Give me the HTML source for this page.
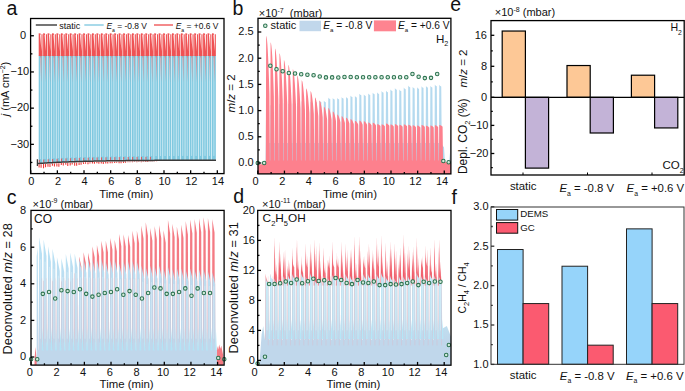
<!DOCTYPE html>
<html><head><meta charset="utf-8"><style>
html,body{margin:0;padding:0;background:#fff;}
svg{display:block;font-family:"Liberation Sans", sans-serif;}
text{fill:#111;}
</style></head><body>
<svg width="685" height="391" viewBox="0 0 685 391">
<defs>
<linearGradient id="gc" gradientUnits="userSpaceOnUse" x1="0" y1="247.2" x2="0" y2="338.7"><stop offset="0" stop-color="#b9e1f4"/><stop offset="1" stop-color="#c0d7eb"/></linearGradient>
<linearGradient id="gd" gradientUnits="userSpaceOnUse" x1="0" y1="277.9" x2="0" y2="341.6"><stop offset="0" stop-color="#c3e9f7"/><stop offset="0.6" stop-color="#bfe3f3"/><stop offset="1" stop-color="#c0d7eb"/></linearGradient>
<clipPath id="ca"><rect x="30.6" y="18.5" width="193.4" height="155.1"/></clipPath>
<clipPath id="cb"><rect x="258.0" y="18.3" width="192.89999999999998" height="155.6"/></clipPath>
<clipPath id="cc"><rect x="31.0" y="210.4" width="193.1" height="154.70000000000002"/></clipPath>
<clipPath id="cd"><rect x="257.7" y="210.4" width="193.3" height="154.79999999999998"/></clipPath>
</defs>
<g clip-path="url(#ca)">
<path d="M38.70,163.15V55.48H42.55V162.85Z M43.14,162.85V55.48H46.99V162.57Z M47.58,162.57V55.48H51.43V162.32Z M52.03,162.32V55.48H55.88V162.09Z M56.47,162.09V55.48H60.32V161.88Z M60.91,161.88V55.48H64.76V161.69Z M65.36,161.69V55.48H69.21V161.52Z M69.80,161.52V55.48H73.65V161.36Z M74.24,161.36V55.48H78.09V161.22Z M78.69,161.22V55.48H82.54V161.09Z M83.13,161.09V55.48H86.98V160.97Z M87.57,160.97V55.48H91.42V160.87Z M92.02,160.87V55.48H95.87V160.77Z M96.46,160.77V55.48H100.31V160.68Z M100.90,160.68V55.48H104.75V160.60Z M105.35,160.60V55.48H109.20V160.53Z M109.79,160.53V55.48H113.64V160.46Z M114.23,160.46V55.48H118.08V160.40Z M118.68,160.40V55.48H122.53V160.35Z M123.12,160.35V55.48H126.97V160.30Z M127.56,160.30V55.48H131.41V160.25Z M132.01,160.25V55.48H135.86V160.21Z M136.45,160.21V55.48H140.30V160.17Z M140.89,160.17V55.48H144.74V160.14Z M145.34,160.14V55.48H149.19V160.11Z M149.78,160.11V55.48H153.63V160.08Z M154.22,160.08V55.48H158.07V160.05Z M158.67,160.05V55.48H162.52V160.03Z M163.11,160.03V55.48H166.96V160.01Z M167.55,160.01V55.48H171.40V159.99Z M172.00,159.99V55.48H175.85V159.97Z M176.44,159.97V55.48H180.29V159.96Z M180.88,159.96V55.48H184.73V159.94Z M185.33,159.94V55.48H189.18V159.93Z M189.77,159.93V55.48H193.62V159.92Z M194.21,159.92V55.48H198.06V159.91Z M198.66,159.91V55.48H202.51V159.90Z M203.10,159.90V55.48H206.95V159.89Z M207.54,159.89V55.48H211.39V159.88Z M211.99,159.88V55.48H215.84V159.87Z" fill="#80c9e0"/>
<path d="M40.60,57.48V159.15 M45.04,57.48V158.85 M49.48,57.48V158.57 M53.93,57.48V158.32 M58.37,57.48V158.09 M62.81,57.48V157.88 M67.26,57.48V157.69 M71.70,57.48V157.52 M76.14,57.48V157.36 M80.59,57.48V157.22 M85.03,57.48V157.09 M89.47,57.48V156.97 M93.92,57.48V156.87 M98.36,57.48V156.77 M102.80,57.48V156.68 M107.25,57.48V156.60 M111.69,57.48V156.53 M116.13,57.48V156.46 M120.58,57.48V156.40 M125.02,57.48V156.35 M129.46,57.48V156.30 M133.91,57.48V156.25 M138.35,57.48V156.21 M142.79,57.48V156.17 M147.24,57.48V156.14 M151.68,57.48V156.11 M156.12,57.48V156.08 M160.57,57.48V156.05 M165.01,57.48V156.03 M169.45,57.48V156.01 M173.90,57.48V155.99 M178.34,57.48V155.97 M182.78,57.48V155.96 M187.23,57.48V155.94 M191.67,57.48V155.93 M196.11,57.48V155.92 M200.56,57.48V155.91 M205.00,57.48V155.90 M209.44,57.48V155.89 M213.89,57.48V155.88" stroke="#d2edf6" stroke-width="0.7" fill="none"/>
<path d="M38.70,56.02V33.26L40.60,33.46L40.60,34.76L40.15,34.96L41.45,51.32V34.16L42.55,34.36V56.02Z M43.14,56.02V33.26L45.04,33.46L45.04,34.76L44.59,34.96L45.89,51.32V34.16L46.99,34.36V56.02Z M47.58,56.02V33.26L49.48,33.46L49.48,34.76L49.03,34.96L50.33,51.32V34.16L51.43,34.36V56.02Z M52.03,56.02V33.26L53.93,33.46L53.93,34.76L53.48,34.96L54.78,51.32V34.16L55.88,34.36V56.02Z M56.47,56.02V33.26L58.37,33.46L58.37,34.76L57.92,34.96L59.22,51.32V34.16L60.32,34.36V56.02Z M60.91,56.02V33.26L62.81,33.46L62.81,34.76L62.36,34.96L63.66,51.32V34.16L64.76,34.36V56.02Z M65.36,56.02V33.26L67.26,33.46L67.26,34.76L66.81,34.96L68.11,51.32V34.16L69.21,34.36V56.02Z M69.80,56.02V33.26L71.70,33.46L71.70,34.76L71.25,34.96L72.55,51.32V34.16L73.65,34.36V56.02Z M74.24,56.02V33.26L76.14,33.46L76.14,34.76L75.69,34.96L76.99,51.32V34.16L78.09,34.36V56.02Z M78.69,56.02V33.26L80.59,33.46L80.59,34.76L80.14,34.96L81.44,51.32V34.16L82.54,34.36V56.02Z M83.13,56.02V33.26L85.03,33.46L85.03,34.76L84.58,34.96L85.88,51.32V34.16L86.98,34.36V56.02Z M87.57,56.02V33.26L89.47,33.46L89.47,34.76L89.02,34.96L90.32,51.32V34.16L91.42,34.36V56.02Z M92.02,56.02V33.26L93.92,33.46L93.92,34.76L93.47,34.96L94.77,51.32V34.16L95.87,34.36V56.02Z M96.46,56.02V33.26L98.36,33.46L98.36,34.76L97.91,34.96L99.21,51.32V34.16L100.31,34.36V56.02Z M100.90,56.02V33.26L102.80,33.46L102.80,34.76L102.35,34.96L103.65,51.32V34.16L104.75,34.36V56.02Z M105.35,56.02V33.26L107.25,33.46L107.25,34.76L106.80,34.96L108.10,51.32V34.16L109.20,34.36V56.02Z M109.79,56.02V33.26L111.69,33.46L111.69,34.76L111.24,34.96L112.54,51.32V34.16L113.64,34.36V56.02Z M114.23,56.02V33.26L116.13,33.46L116.13,34.76L115.68,34.96L116.98,51.32V34.16L118.08,34.36V56.02Z M118.68,56.02V33.26L120.58,33.46L120.58,34.76L120.13,34.96L121.43,51.32V34.16L122.53,34.36V56.02Z M123.12,56.02V33.26L125.02,33.46L125.02,34.76L124.57,34.96L125.87,51.32V34.16L126.97,34.36V56.02Z M127.56,56.02V33.26L129.46,33.46L129.46,34.76L129.01,34.96L130.31,51.32V34.16L131.41,34.36V56.02Z M132.01,56.02V33.26L133.91,33.46L133.91,34.76L133.46,34.96L134.76,51.32V34.16L135.86,34.36V56.02Z M136.45,56.02V33.26L138.35,33.46L138.35,34.76L137.90,34.96L139.20,51.32V34.16L140.30,34.36V56.02Z M140.89,56.02V33.26L142.79,33.46L142.79,34.76L142.34,34.96L143.64,51.32V34.16L144.74,34.36V56.02Z M145.34,56.02V33.26L147.24,33.46L147.24,34.76L146.79,34.96L148.09,51.32V34.16L149.19,34.36V56.02Z M149.78,56.02V33.26L151.68,33.46L151.68,34.76L151.23,34.96L152.53,51.32V34.16L153.63,34.36V56.02Z M154.22,56.02V33.26L156.12,33.46L156.12,34.76L155.67,34.96L156.97,51.32V34.16L158.07,34.36V56.02Z M158.67,56.02V33.26L160.57,33.46L160.57,34.76L160.12,34.96L161.42,51.32V34.16L162.52,34.36V56.02Z M163.11,56.02V33.26L165.01,33.46L165.01,34.76L164.56,34.96L165.86,51.32V34.16L166.96,34.36V56.02Z M167.55,56.02V33.26L169.45,33.46L169.45,34.76L169.00,34.96L170.30,51.32V34.16L171.40,34.36V56.02Z M172.00,56.02V33.26L173.90,33.46L173.90,34.76L173.45,34.96L174.75,51.32V34.16L175.85,34.36V56.02Z M176.44,56.02V33.26L178.34,33.46L178.34,34.76L177.89,34.96L179.19,51.32V34.16L180.29,34.36V56.02Z M180.88,56.02V33.26L182.78,33.46L182.78,34.76L182.33,34.96L183.63,51.32V34.16L184.73,34.36V56.02Z M185.33,56.02V33.26L187.23,33.46L187.23,34.76L186.78,34.96L188.08,51.32V34.16L189.18,34.36V56.02Z M189.77,56.02V33.26L191.67,33.46L191.67,34.76L191.22,34.96L192.52,51.32V34.16L193.62,34.36V56.02Z M194.21,56.02V33.26L196.11,33.46L196.11,34.76L195.66,34.96L196.96,51.32V34.16L198.06,34.36V56.02Z M198.66,56.02V33.26L200.56,33.46L200.56,34.76L200.11,34.96L201.41,51.32V34.16L202.51,34.36V56.02Z M203.10,56.02V33.26L205.00,33.46L205.00,34.76L204.55,34.96L205.85,51.32V34.16L206.95,34.36V56.02Z M207.54,56.02V33.26L209.44,33.46L209.44,34.76L208.99,34.96L210.29,51.32V34.16L211.39,34.36V56.02Z M211.99,56.02V33.26L213.89,33.46L213.89,34.76L213.44,34.96L214.74,51.32V34.16L215.84,34.36V56.02Z" fill="#ef5254"/>
<path d="M40.20,55.66L41.60,55.66L41.20,82.81Z M44.64,55.66L46.04,55.66L45.64,82.81Z M49.08,55.66L50.48,55.66L50.08,82.81Z M53.53,55.66L54.93,55.66L54.53,82.81Z M57.97,55.66L59.37,55.66L58.97,82.81Z M62.41,55.66L63.81,55.66L63.41,82.81Z M66.86,55.66L68.26,55.66L67.86,82.81Z M71.30,55.66L72.70,55.66L72.30,82.81Z M75.74,55.66L77.14,55.66L76.74,82.81Z M80.19,55.66L81.59,55.66L81.19,82.81Z M84.63,55.66L86.03,55.66L85.63,82.81Z M89.07,55.66L90.47,55.66L90.07,82.81Z M93.52,55.66L94.92,55.66L94.52,82.81Z M97.96,55.66L99.36,55.66L98.96,82.81Z M102.40,55.66L103.80,55.66L103.40,82.81Z M106.85,55.66L108.25,55.66L107.85,82.81Z M111.29,55.66L112.69,55.66L112.29,82.81Z M115.73,55.66L117.13,55.66L116.73,82.81Z M120.18,55.66L121.58,55.66L121.18,82.81Z M124.62,55.66L126.02,55.66L125.62,82.81Z M129.06,55.66L130.46,55.66L130.06,82.81Z M133.51,55.66L134.91,55.66L134.51,82.81Z M137.95,55.66L139.35,55.66L138.95,82.81Z M142.39,55.66L143.79,55.66L143.39,82.81Z M146.84,55.66L148.24,55.66L147.84,82.81Z M151.28,55.66L152.68,55.66L152.28,82.81Z M155.72,55.66L157.12,55.66L156.72,82.81Z M160.17,55.66L161.57,55.66L161.17,82.81Z M164.61,55.66L166.01,55.66L165.61,82.81Z M169.05,55.66L170.45,55.66L170.05,82.81Z M173.50,55.66L174.90,55.66L174.50,82.81Z M177.94,55.66L179.34,55.66L178.94,82.81Z M182.38,55.66L183.78,55.66L183.38,82.81Z M186.83,55.66L188.23,55.66L187.83,82.81Z M191.27,55.66L192.67,55.66L192.27,82.81Z M195.71,55.66L197.11,55.66L196.71,82.81Z M200.16,55.66L201.56,55.66L201.16,82.81Z M204.60,55.66L206.00,55.66L205.60,82.81Z M209.04,55.66L210.44,55.66L210.04,82.81Z M213.49,55.66L214.89,55.66L214.49,82.81Z" fill="#f06a6a" fill-opacity="0.55"/>
<path d="M39.30,162.73V159.83 M43.74,162.42V159.53 M48.18,162.15V159.25 M52.63,161.89V159.00 M57.07,161.66V158.77 M61.51,161.46V158.56 M65.96,161.27V158.37 M70.40,161.10V158.20 M74.84,160.94V158.04 M79.29,160.80V157.90 M83.73,160.67V157.77 M88.17,160.55V157.65 M92.62,160.44V157.55 M97.06,160.35V157.45 M101.50,160.26V157.36 M105.95,160.18V157.28 M110.39,160.10V157.21 M114.83,160.04V157.14 M119.28,159.98V157.08 M123.72,159.92V157.03 M128.16,159.87V156.98 M132.61,159.83V156.93 M137.05,159.79V156.89 M141.49,159.75V156.85 M145.94,159.71V156.82 M150.38,159.68V156.79" stroke="#f04040" stroke-width="1.0" stroke-opacity="0.8" fill="none"/>
<path d="M39.10,164.36V167.57 M41.10,164.36V167.81 M43.54,164.05V168.16 M45.54,164.05V167.18 M47.98,163.77V166.87 M49.98,163.77V167.04 M52.43,163.52V165.86 M54.43,163.52V166.51 M56.87,163.29V166.39 M58.87,163.29V166.70 M61.31,163.09V165.08 M63.31,163.09V165.46 M65.76,162.90V164.80 M67.76,162.90V166.05 M70.20,162.72V165.54 M72.20,162.72V164.46 M74.64,162.57V165.71 M76.64,162.57V165.68 M79.09,162.43V164.92 M81.09,162.43V164.86 M83.53,162.30V163.95 M85.53,162.30V163.75 M87.97,162.18V164.24 M89.97,162.18V163.61 M92.42,162.07V163.58 M94.42,162.07V163.65 M96.86,161.97V163.20 M98.86,161.97V163.72 M101.30,161.89V163.49 M103.30,161.89V163.94 M105.75,161.81V163.38 M107.75,161.81V163.50 M110.19,161.73V163.17 M112.19,161.73V163.32 M114.63,161.67V162.95 M116.63,161.67V162.79 M119.08,161.61V163.20 M121.08,161.61V163.20 M123.52,161.55V162.88 M125.52,161.55V162.78 M127.96,161.50V162.35 M129.96,161.50V162.29 M132.41,161.46V162.18 M134.41,161.46V162.06 M136.85,161.41V162.27 M138.85,161.41V162.10 M141.29,161.38V162.13 M143.29,161.38V161.94 M145.74,161.34V161.99 M147.74,161.34V161.95 M150.18,161.31V161.56 M152.18,161.31V161.62 M154.62,161.28V161.61 M156.62,161.28V161.54" stroke="#f03a3a" stroke-width="1.1" fill="none"/>
<polyline points="37.37,159.19 37.37,166.07" fill="none" stroke="#333" stroke-width="1.2" />
<polyline points="37.37,163.55 39.15,163.42 40.94,163.29 42.72,163.17 44.51,163.06 46.30,162.95 48.08,162.84 49.87,162.74 51.65,162.64 53.44,162.54 55.23,162.45 57.01,162.36 58.80,162.28 60.59,162.20 62.37,162.12 64.16,162.04 65.94,161.97 67.73,161.90 69.52,161.83 71.30,161.76 73.09,161.70 74.88,161.64 76.66,161.58 78.45,161.53 80.23,161.47 82.02,161.42 83.81,161.37 85.59,161.32 87.38,161.28 89.17,161.23 90.95,161.19 92.74,161.15 94.52,161.11 96.31,161.07 98.10,161.04 99.88,161.00 101.67,160.97 103.46,160.93 105.24,160.90 107.03,160.87 108.81,160.84 110.60,160.82 112.39,160.79 114.17,160.76 115.96,160.74 117.74,160.71 119.53,160.69 121.32,160.67 123.10,160.65 124.89,160.63 126.68,160.61 128.46,160.59 130.25,160.57 132.03,160.55 133.82,160.53 135.61,160.52 137.39,160.50 139.18,160.49 140.97,160.47 142.75,160.46 144.54,160.44 146.32,160.43 148.11,160.42 149.90,160.41 151.68,160.39 153.47,160.38 155.26,160.37 157.04,160.36 158.83,160.35 160.61,160.34 162.40,160.33 164.19,160.32 165.97,160.32 167.76,160.31 169.55,160.30 171.33,160.29 173.12,160.29 174.90,160.28 176.69,160.27 178.48,160.26 180.26,160.26 182.05,160.25 183.84,160.25 185.62,160.24 187.41,160.24 189.19,160.23 190.98,160.23 192.77,160.22 194.55,160.22 196.34,160.21 198.12,160.21 199.91,160.20 201.70,160.20 203.48,160.20 205.27,160.19 207.06,160.19 208.84,160.18 210.63,160.18 212.41,160.18 214.20,160.17 215.99,160.17" fill="none" stroke="#3a3a3a" stroke-width="1.5" />
</g>
<rect x="30.60" y="18.50" width="193.40" height="155.10" fill="none" stroke="#000" stroke-width="1.3"/>
<line x1="30.60" y1="35.75" x2="33.90" y2="35.75" stroke="#000" stroke-width="1.3" />
<line x1="30.60" y1="71.95" x2="33.90" y2="71.95" stroke="#000" stroke-width="1.3" />
<line x1="30.60" y1="108.15" x2="33.90" y2="108.15" stroke="#000" stroke-width="1.3" />
<line x1="30.60" y1="144.35" x2="33.90" y2="144.35" stroke="#000" stroke-width="1.3" />
<line x1="30.60" y1="53.85" x2="32.40" y2="53.85" stroke="#000" stroke-width="1.3" />
<line x1="30.60" y1="90.05" x2="32.40" y2="90.05" stroke="#000" stroke-width="1.3" />
<line x1="30.60" y1="126.25" x2="32.40" y2="126.25" stroke="#000" stroke-width="1.3" />
<line x1="30.60" y1="162.45" x2="32.40" y2="162.45" stroke="#000" stroke-width="1.3" />
<text x="26.20" y="39.05" font-size="11" text-anchor="end" >0</text>
<text x="29.20" y="75.25" font-size="11" text-anchor="end" >−10</text>
<text x="29.20" y="111.45" font-size="11" text-anchor="end" >−20</text>
<text x="29.20" y="147.65" font-size="11" text-anchor="end" >−30</text>
<line x1="30.70" y1="173.60" x2="30.70" y2="170.30" stroke="#000" stroke-width="1.3" />
<text x="31.30" y="185.20" font-size="11" text-anchor="middle" >0</text>
<line x1="44.03" y1="173.60" x2="44.03" y2="171.80" stroke="#000" stroke-width="1.3" />
<line x1="57.36" y1="173.60" x2="57.36" y2="170.30" stroke="#000" stroke-width="1.3" />
<text x="57.96" y="185.20" font-size="11" text-anchor="middle" >2</text>
<line x1="70.69" y1="173.60" x2="70.69" y2="171.80" stroke="#000" stroke-width="1.3" />
<line x1="84.02" y1="173.60" x2="84.02" y2="170.30" stroke="#000" stroke-width="1.3" />
<text x="84.62" y="185.20" font-size="11" text-anchor="middle" >4</text>
<line x1="97.35" y1="173.60" x2="97.35" y2="171.80" stroke="#000" stroke-width="1.3" />
<line x1="110.68" y1="173.60" x2="110.68" y2="170.30" stroke="#000" stroke-width="1.3" />
<text x="111.28" y="185.20" font-size="11" text-anchor="middle" >6</text>
<line x1="124.01" y1="173.60" x2="124.01" y2="171.80" stroke="#000" stroke-width="1.3" />
<line x1="137.34" y1="173.60" x2="137.34" y2="170.30" stroke="#000" stroke-width="1.3" />
<text x="137.94" y="185.20" font-size="11" text-anchor="middle" >8</text>
<line x1="150.67" y1="173.60" x2="150.67" y2="171.80" stroke="#000" stroke-width="1.3" />
<line x1="164.00" y1="173.60" x2="164.00" y2="170.30" stroke="#000" stroke-width="1.3" />
<text x="164.60" y="185.20" font-size="11" text-anchor="middle" >10</text>
<line x1="177.33" y1="173.60" x2="177.33" y2="171.80" stroke="#000" stroke-width="1.3" />
<line x1="190.66" y1="173.60" x2="190.66" y2="170.30" stroke="#000" stroke-width="1.3" />
<text x="191.26" y="185.20" font-size="11" text-anchor="middle" >12</text>
<line x1="203.99" y1="173.60" x2="203.99" y2="171.80" stroke="#000" stroke-width="1.3" />
<line x1="217.32" y1="173.60" x2="217.32" y2="170.30" stroke="#000" stroke-width="1.3" />
<text x="217.92" y="185.20" font-size="11" text-anchor="middle" >14</text>
<text x="126.20" y="197.70" font-size="11.4" text-anchor="middle" >Time (min)</text>
<text transform="translate(8.9,89) rotate(-90)" font-size="11" text-anchor="middle"><tspan font-style="italic">j</tspan> (mA cm<tspan dy="-4" font-size="7">−2</tspan><tspan dy="4">)</tspan></text>
<line x1="35.80" y1="25.00" x2="57.00" y2="25.00" stroke="#3a3a3a" stroke-width="1.4" />
<text x="59.20" y="28.70" font-size="9" text-anchor="start" >static</text>
<line x1="84.30" y1="25.00" x2="103.70" y2="25.00" stroke="#84cbe1" stroke-width="1.4" />
<text x="106.40" y="28.70" font-size="8.45" text-anchor="start" ><tspan font-style="italic">E</tspan><tspan dy="2.89" font-size="5.07">a</tspan><tspan dy="-2.89"> = -0.8 V</tspan></text>
<line x1="154.00" y1="25.00" x2="173.00" y2="25.00" stroke="#f0585a" stroke-width="1.4" />
<text x="175.70" y="28.70" font-size="8.45" text-anchor="start" ><tspan font-style="italic">E</tspan><tspan dy="2.89" font-size="5.07">a</tspan><tspan dy="-2.89"> = +0.6 V</tspan></text>
<text x="6.50" y="14.80" font-size="19.5" text-anchor="start" >a</text>
<g clip-path="url(#cb)">
<polygon points="265.53,183.96 265.53,163.00 265.79,143.09 266.10,104.45 266.35,104.75 266.60,105.00 266.85,105.21 267.10,105.38 267.35,105.52 267.60,105.64 267.85,105.74 268.10,105.82 268.54,143.09 270.23,143.09 270.54,104.95 270.79,105.24 271.04,105.49 271.29,105.70 271.54,105.87 271.79,106.01 272.04,106.12 272.29,106.22 272.54,106.30 272.98,143.09 274.67,143.09 274.98,105.03 275.23,105.33 275.48,105.58 275.73,105.78 275.98,105.95 276.23,106.09 276.48,106.21 276.73,106.30 276.98,106.38 277.42,143.09 279.11,143.09 279.42,103.74 279.67,104.04 279.92,104.29 280.17,104.50 280.42,104.67 280.67,104.82 280.92,104.94 281.17,105.03 281.42,105.12 281.86,143.09 283.55,143.09 283.86,103.08 284.11,103.39 284.36,103.64 284.61,103.85 284.86,104.03 285.11,104.17 285.36,104.29 285.61,104.39 285.86,104.47 286.30,143.09 287.99,143.09 288.30,103.46 288.55,103.76 288.80,104.01 289.05,104.22 289.30,104.40 289.55,104.54 289.80,104.66 290.05,104.76 290.30,104.84 290.74,143.09 292.43,143.09 292.74,103.32 292.99,103.63 293.24,103.88 293.49,104.09 293.74,104.26 293.99,104.41 294.24,104.53 294.49,104.63 294.74,104.71 295.18,143.09 296.87,143.09 297.18,102.51 297.43,102.82 297.68,103.08 297.93,103.29 298.18,103.47 298.43,103.61 298.68,103.74 298.93,103.84 299.18,103.92 299.62,143.09 301.31,143.09 301.62,101.09 301.87,101.41 302.12,101.68 302.37,101.89 302.62,102.07 302.87,102.22 303.12,102.35 303.37,102.45 303.62,102.54 304.06,143.09 305.75,143.09 306.06,101.00 306.31,101.31 306.56,101.58 306.81,101.80 307.06,101.98 307.31,102.13 307.56,102.25 307.81,102.36 308.06,102.44 308.50,143.09 310.19,143.09 310.50,101.58 310.75,101.89 311.00,102.16 311.25,102.37 311.50,102.55 311.75,102.70 312.00,102.82 312.25,102.93 312.50,103.01 312.94,143.09 314.63,143.09 314.94,100.95 315.19,101.27 315.44,101.54 315.69,101.76 315.94,101.94 316.19,102.09 316.44,102.21 316.69,102.31 316.94,102.40 317.38,143.09 319.07,143.09 319.38,100.76 319.63,101.08 319.88,101.34 320.13,101.56 320.38,101.75 320.63,101.90 320.88,102.02 321.13,102.12 321.38,102.21 321.82,143.09 323.51,143.09 323.82,100.79 324.07,101.11 324.32,101.37 324.57,101.59 324.82,101.78 325.07,101.93 325.32,102.05 325.57,102.16 325.82,102.24 326.26,143.09 327.95,143.09 328.26,97.58 328.51,97.91 328.76,98.19 329.01,98.42 329.26,98.61 329.51,98.77 329.76,98.90 330.01,99.01 330.26,99.10 330.70,143.09 332.39,143.09 332.70,98.02 332.95,98.36 333.20,98.63 333.45,98.86 333.70,99.05 333.95,99.21 334.20,99.34 334.45,99.45 334.70,99.54 335.14,143.09 336.83,143.09 337.14,97.92 337.39,98.25 337.64,98.53 337.89,98.76 338.14,98.95 338.39,99.11 338.64,99.24 338.89,99.35 339.14,99.44 339.58,143.09 341.27,143.09 341.58,97.05 341.83,97.39 342.08,97.67 342.33,97.90 342.58,98.09 342.83,98.25 343.08,98.38 343.33,98.49 343.58,98.59 344.02,143.09 345.71,143.09 346.02,96.94 346.27,97.28 346.52,97.56 346.77,97.79 347.02,97.98 347.27,98.14 347.52,98.28 347.77,98.39 348.02,98.48 348.46,143.09 350.15,143.09 350.46,95.54 350.71,95.89 350.96,96.18 351.21,96.41 351.46,96.61 351.71,96.77 351.96,96.91 352.21,97.02 352.46,97.12 352.90,143.09 354.59,143.09 354.90,95.95 355.15,96.30 355.40,96.58 355.65,96.82 355.90,97.02 356.15,97.18 356.40,97.31 356.65,97.42 356.90,97.52 357.34,143.09 359.03,143.09 359.34,93.65 359.59,94.01 359.84,94.30 360.09,94.55 360.34,94.75 360.59,94.92 360.84,95.06 361.09,95.17 361.34,95.27 361.78,143.09 363.47,143.09 363.78,94.41 364.03,94.77 364.28,95.06 364.53,95.30 364.78,95.50 365.03,95.67 365.28,95.80 365.53,95.92 365.78,96.01 366.22,143.09 367.91,143.09 368.22,93.41 368.47,93.77 368.72,94.06 368.97,94.31 369.22,94.51 369.47,94.68 369.72,94.82 369.97,94.94 370.22,95.03 370.66,143.09 372.35,143.09 372.66,92.70 372.91,93.06 373.16,93.36 373.41,93.60 373.66,93.81 373.91,93.98 374.16,94.12 374.41,94.24 374.66,94.33 375.10,143.09 376.79,143.09 377.10,92.36 377.35,92.72 377.60,93.02 377.85,93.27 378.10,93.48 378.35,93.65 378.60,93.79 378.85,93.91 379.10,94.00 379.54,143.09 381.23,143.09 381.54,91.01 381.79,91.37 382.04,91.68 382.29,91.93 382.54,92.15 382.79,92.32 383.04,92.46 383.29,92.58 383.54,92.68 383.98,143.09 385.67,143.09 385.98,90.61 386.23,90.98 386.48,91.29 386.73,91.54 386.98,91.75 387.23,91.93 387.48,92.07 387.73,92.20 387.98,92.30 388.42,143.09 390.11,143.09 390.42,89.39 390.67,89.76 390.92,90.08 391.17,90.34 391.42,90.55 391.67,90.73 391.92,90.88 392.17,91.00 392.42,91.10 392.86,143.09 394.55,143.09 394.86,88.04 395.11,88.43 395.36,88.75 395.61,89.01 395.86,89.23 396.11,89.41 396.36,89.56 396.61,89.69 396.86,89.79 397.30,143.09 398.99,143.09 399.30,89.47 399.55,89.84 399.80,90.16 400.05,90.42 400.30,90.63 400.55,90.81 400.80,90.96 401.05,91.08 401.30,91.18 401.74,143.09 403.43,143.09 403.74,87.47 403.99,87.86 404.24,88.18 404.49,88.45 404.74,88.67 404.99,88.85 405.24,89.00 405.49,89.13 405.74,89.23 406.18,143.09 407.87,143.09 408.18,85.52 408.43,85.92 408.68,86.25 408.93,86.52 409.18,86.75 409.43,86.94 409.68,87.09 409.93,87.22 410.18,87.33 410.62,143.09 412.31,143.09 412.62,86.76 412.87,87.15 413.12,87.48 413.37,87.75 413.62,87.97 413.87,88.15 414.12,88.31 414.37,88.43 414.62,88.54 415.06,143.09 416.75,143.09 417.06,87.20 417.31,87.59 417.56,87.91 417.81,88.18 418.06,88.40 418.31,88.58 418.56,88.74 418.81,88.86 419.06,88.97 419.50,143.09 421.19,143.09 421.50,86.17 421.75,86.57 422.00,86.89 422.25,87.16 422.50,87.39 422.75,87.57 423.00,87.73 423.25,87.86 423.50,87.96 423.94,143.09 425.63,143.09 425.94,85.90 426.19,86.29 426.44,86.62 426.69,86.89 426.94,87.12 427.19,87.31 427.44,87.46 427.69,87.59 427.94,87.70 428.38,143.09 430.07,143.09 430.38,85.79 430.63,86.19 430.88,86.52 431.13,86.79 431.38,87.02 431.63,87.20 431.88,87.36 432.13,87.49 432.38,87.59 432.82,143.09 434.51,143.09 434.82,84.49 435.07,84.89 435.32,85.22 435.57,85.50 435.82,85.73 436.07,85.92 436.32,86.08 436.57,86.21 436.82,86.32 437.26,143.09 438.95,143.09 439.26,84.68 439.51,85.09 439.76,85.42 440.01,85.69 440.26,85.92 440.51,86.11 440.76,86.27 441.01,86.40 441.26,86.51 441.70,143.09 440.95,143.09 442.28,145.18 444.01,147.28 444.95,161.95 448.94,161.95 449.34,152.52 449.87,161.95 452.27,163.00 452.27,183.96" fill="#b5daef" stroke="none" stroke-width="1.0" />
<polygon points="256.47,183.96 256.47,164.31 263.39,164.31 263.79,161.95 265.53,161.43 265.79,160.38 266.15,35.88 266.56,36.79 266.97,39.52 267.38,44.07 267.79,50.45 268.20,58.64 268.61,68.65 269.02,80.49 269.43,94.14 269.88,160.38 270.23,160.38 270.59,42.28 271.00,43.13 271.41,45.66 271.82,49.90 272.23,55.82 272.64,63.44 273.05,72.75 273.46,83.75 273.87,96.44 274.32,160.38 274.67,160.38 275.03,48.43 275.44,49.21 275.85,51.57 276.26,55.49 276.67,60.98 277.08,68.05 277.49,76.68 277.90,86.88 278.31,98.66 278.76,160.38 279.11,160.38 279.47,53.24 279.88,53.98 280.29,56.19 280.70,59.87 281.11,65.03 281.52,71.66 281.93,79.76 282.34,89.34 282.75,100.39 283.20,160.38 283.55,160.38 283.91,60.09 284.32,60.76 284.73,62.77 285.14,66.11 285.55,70.78 285.96,76.80 286.37,84.15 286.78,92.83 287.19,102.86 287.64,160.38 287.99,160.38 288.35,64.85 288.76,65.48 289.17,67.34 289.58,70.44 289.99,74.78 290.40,80.37 290.81,87.19 291.22,95.26 291.63,104.57 292.08,160.38 292.43,160.38 292.79,69.22 293.20,69.79 293.61,71.52 294.02,74.41 294.43,78.45 294.84,83.64 295.25,89.99 295.66,97.49 296.07,106.14 296.52,160.38 296.87,160.38 297.23,75.59 297.64,76.11 298.05,77.65 298.46,80.21 298.87,83.80 299.28,88.42 299.69,94.07 300.10,100.74 300.51,108.44 300.96,160.38 301.31,160.38 301.67,80.20 302.08,80.67 302.49,82.07 302.90,84.40 303.31,87.67 303.72,91.88 304.13,97.02 304.54,103.09 304.95,110.09 305.40,160.38 305.75,160.38 306.11,88.38 306.52,88.76 306.93,89.92 307.34,91.85 307.75,94.54 308.16,98.01 308.57,102.25 308.98,107.26 309.39,113.04 309.84,160.38 310.19,160.38 310.55,91.20 310.96,91.56 311.37,92.63 311.78,94.41 312.19,96.91 312.60,100.13 313.01,104.06 313.42,108.70 313.83,114.05 314.28,160.38 314.63,160.38 314.99,97.57 315.40,97.87 315.81,98.75 316.22,100.21 316.63,102.27 317.04,104.91 317.45,108.13 317.86,111.95 318.27,116.35 318.72,160.38 319.07,160.38 319.43,100.39 319.84,100.66 320.25,101.45 320.66,102.78 321.07,104.63 321.48,107.02 321.89,109.94 322.30,113.38 322.71,117.36 323.16,160.38 323.51,160.38 323.87,106.79 324.28,106.99 324.69,107.60 325.10,108.60 325.51,110.01 325.92,111.82 326.33,114.03 326.74,116.65 327.15,119.67 327.60,160.38 327.95,160.38 328.31,108.06 328.72,108.24 329.13,108.81 329.54,109.75 329.95,111.07 330.36,112.77 330.77,114.84 331.18,117.29 331.59,120.12 332.04,160.38 332.39,160.38 332.75,111.48 333.16,111.63 333.57,112.09 333.98,112.87 334.39,113.95 334.80,115.33 335.21,117.03 335.62,119.04 336.03,121.35 336.48,160.38 336.83,160.38 337.19,114.55 337.60,114.67 338.01,115.04 338.42,115.66 338.83,116.52 339.24,117.64 339.65,119.00 340.06,120.60 340.47,122.46 340.92,160.38 341.27,160.38 341.63,116.21 342.04,116.31 342.45,116.63 342.86,117.17 343.27,117.92 343.68,118.88 344.09,120.06 344.50,121.45 344.91,123.06 345.36,160.38 345.71,160.38 346.07,117.69 346.48,117.78 346.89,118.05 347.30,118.52 347.71,119.16 348.12,119.99 348.53,121.01 348.94,122.21 349.35,123.59 349.80,160.38 350.15,160.38 350.51,119.09 350.92,119.17 351.33,119.40 351.74,119.79 352.15,120.34 352.56,121.04 352.97,121.90 353.38,122.92 353.79,124.09 354.24,160.38 354.59,160.38 354.95,120.88 355.36,120.94 355.77,121.12 356.18,121.43 356.59,121.85 357.00,122.39 357.41,123.05 357.82,123.84 358.23,124.74 358.68,160.38 359.03,160.38 359.39,120.59 359.80,120.66 360.21,120.85 360.62,121.16 361.03,121.60 361.44,122.17 361.85,122.87 362.26,123.69 362.67,124.64 363.12,160.38 363.47,160.38 363.83,121.24 364.24,121.30 364.65,121.47 365.06,121.75 365.47,122.15 365.88,122.66 366.29,123.28 366.70,124.02 367.11,124.87 367.56,160.38 367.91,160.38 368.27,122.54 368.68,122.59 369.09,122.72 369.50,122.94 369.91,123.24 370.32,123.63 370.73,124.12 371.14,124.68 371.55,125.34 372.00,160.38 372.35,160.38 372.71,122.73 373.12,122.78 373.53,122.90 373.94,123.11 374.35,123.40 374.76,123.78 375.17,124.24 375.58,124.78 375.99,125.41 376.44,160.38 376.79,160.38 377.15,124.12 377.56,124.15 377.97,124.24 378.38,124.40 378.79,124.61 379.20,124.88 379.61,125.22 380.02,125.61 380.43,126.07 380.88,160.38 381.23,160.38 381.59,124.35 382.00,124.39 382.41,124.48 382.82,124.63 383.23,124.84 383.64,125.11 384.05,125.44 384.46,125.83 384.87,126.29 385.32,160.38 385.67,160.38 386.03,123.55 386.44,123.58 386.85,123.69 387.26,123.85 387.67,124.09 388.08,124.39 388.49,124.76 388.90,125.20 389.31,125.70 389.76,160.38 390.11,160.38 390.47,124.48 390.88,124.51 391.29,124.60 391.70,124.75 392.11,124.96 392.52,125.23 392.93,125.56 393.34,125.95 393.75,126.40 394.20,160.38 394.55,160.38 394.91,124.16 395.32,124.19 395.73,124.28 396.14,124.43 396.55,124.65 396.96,124.92 397.37,125.25 397.78,125.65 398.19,126.10 398.64,160.38 398.99,160.38 399.35,124.80 399.76,124.83 400.17,124.92 400.58,125.07 400.99,125.28 401.40,125.55 401.81,125.88 402.22,126.27 402.63,126.71 403.08,160.38 403.43,160.38 403.79,124.38 404.20,124.41 404.61,124.50 405.02,124.66 405.43,124.87 405.84,125.14 406.25,125.47 406.66,125.86 407.07,126.32 407.52,160.38 407.87,160.38 408.23,124.80 408.64,124.83 409.05,124.92 409.46,125.07 409.87,125.27 410.28,125.54 410.69,125.87 411.10,126.26 411.51,126.71 411.96,160.38 412.31,160.38 412.67,125.29 413.08,125.32 413.49,125.41 413.90,125.55 414.31,125.76 414.72,126.03 415.13,126.35 415.54,126.73 415.95,127.17 416.40,160.38 416.75,160.38 417.11,125.59 417.52,125.62 417.93,125.70 418.34,125.85 418.75,126.06 419.16,126.32 419.57,126.64 419.98,127.02 420.39,127.46 420.84,160.38 421.19,160.38 421.55,125.04 421.96,125.07 422.37,125.16 422.78,125.31 423.19,125.52 423.60,125.78 424.01,126.11 424.42,126.49 424.83,126.94 425.28,160.38 425.63,160.38 425.99,125.72 426.40,125.75 426.81,125.84 427.22,125.99 427.63,126.19 428.04,126.45 428.45,126.77 428.86,127.15 429.27,127.59 429.72,160.38 430.07,160.38 430.43,125.56 430.84,125.59 431.25,125.67 431.66,125.82 432.07,126.02 432.48,126.29 432.89,126.61 433.30,126.99 433.71,127.43 434.16,160.38 434.51,160.38 434.87,125.21 435.28,125.24 435.69,125.33 436.10,125.48 436.51,125.68 436.92,125.95 437.33,126.27 437.74,126.66 438.15,127.10 438.60,160.38 438.95,160.38 439.31,124.90 439.72,124.93 440.13,125.02 440.54,125.17 440.95,125.38 441.36,125.65 441.77,125.97 442.18,126.36 442.59,126.81 443.04,160.38 440.95,161.95 452.27,161.95 452.27,183.96" fill="#fd808d" stroke="none" stroke-width="1.0" />
</g>
<circle cx="257.80" cy="163.00" r="1.75" fill="#d3eadb" stroke="#2c7350" stroke-width="1.05"/>
<circle cx="264.19" cy="163.00" r="1.75" fill="#d3eadb" stroke="#2c7350" stroke-width="1.05"/>
<circle cx="270.32" cy="65.80" r="1.75" fill="#d3eadb" stroke="#2c7350" stroke-width="1.05"/>
<circle cx="276.50" cy="69.31" r="1.75" fill="#d3eadb" stroke="#2c7350" stroke-width="1.05"/>
<circle cx="282.68" cy="71.30" r="1.75" fill="#d3eadb" stroke="#2c7350" stroke-width="1.05"/>
<circle cx="288.86" cy="72.98" r="1.75" fill="#d3eadb" stroke="#2c7350" stroke-width="1.05"/>
<circle cx="295.04" cy="73.40" r="1.75" fill="#d3eadb" stroke="#2c7350" stroke-width="1.05"/>
<circle cx="301.22" cy="74.29" r="1.75" fill="#d3eadb" stroke="#2c7350" stroke-width="1.05"/>
<circle cx="307.40" cy="74.81" r="1.75" fill="#d3eadb" stroke="#2c7350" stroke-width="1.05"/>
<circle cx="313.58" cy="75.18" r="1.75" fill="#d3eadb" stroke="#2c7350" stroke-width="1.05"/>
<circle cx="319.76" cy="76.59" r="1.75" fill="#d3eadb" stroke="#2c7350" stroke-width="1.05"/>
<circle cx="325.95" cy="77.38" r="1.75" fill="#d3eadb" stroke="#2c7350" stroke-width="1.05"/>
<circle cx="332.13" cy="77.38" r="1.75" fill="#d3eadb" stroke="#2c7350" stroke-width="1.05"/>
<circle cx="338.31" cy="77.59" r="1.75" fill="#d3eadb" stroke="#2c7350" stroke-width="1.05"/>
<circle cx="344.49" cy="77.06" r="1.75" fill="#d3eadb" stroke="#2c7350" stroke-width="1.05"/>
<circle cx="350.67" cy="77.06" r="1.75" fill="#d3eadb" stroke="#2c7350" stroke-width="1.05"/>
<circle cx="356.85" cy="77.27" r="1.75" fill="#d3eadb" stroke="#2c7350" stroke-width="1.05"/>
<circle cx="363.03" cy="77.27" r="1.75" fill="#d3eadb" stroke="#2c7350" stroke-width="1.05"/>
<circle cx="369.21" cy="77.27" r="1.75" fill="#d3eadb" stroke="#2c7350" stroke-width="1.05"/>
<circle cx="375.39" cy="77.27" r="1.75" fill="#d3eadb" stroke="#2c7350" stroke-width="1.05"/>
<circle cx="381.57" cy="77.27" r="1.75" fill="#d3eadb" stroke="#2c7350" stroke-width="1.05"/>
<circle cx="387.75" cy="77.27" r="1.75" fill="#d3eadb" stroke="#2c7350" stroke-width="1.05"/>
<circle cx="393.93" cy="77.27" r="1.75" fill="#d3eadb" stroke="#2c7350" stroke-width="1.05"/>
<circle cx="400.11" cy="77.27" r="1.75" fill="#d3eadb" stroke="#2c7350" stroke-width="1.05"/>
<circle cx="406.29" cy="77.27" r="1.75" fill="#d3eadb" stroke="#2c7350" stroke-width="1.05"/>
<circle cx="412.47" cy="73.92" r="1.75" fill="#d3eadb" stroke="#2c7350" stroke-width="1.05"/>
<circle cx="418.65" cy="76.80" r="1.75" fill="#d3eadb" stroke="#2c7350" stroke-width="1.05"/>
<circle cx="424.83" cy="78.11" r="1.75" fill="#d3eadb" stroke="#2c7350" stroke-width="1.05"/>
<circle cx="431.01" cy="77.85" r="1.75" fill="#d3eadb" stroke="#2c7350" stroke-width="1.05"/>
<circle cx="437.19" cy="73.92" r="1.75" fill="#d3eadb" stroke="#2c7350" stroke-width="1.05"/>
<circle cx="443.35" cy="160.90" r="1.75" fill="#d3eadb" stroke="#2c7350" stroke-width="1.05"/>
<circle cx="448.68" cy="162.21" r="1.75" fill="#d3eadb" stroke="#2c7350" stroke-width="1.05"/>
<rect x="258.00" y="18.30" width="192.90" height="155.60" fill="none" stroke="#000" stroke-width="1.3"/>
<line x1="258.00" y1="163.00" x2="261.30" y2="163.00" stroke="#000" stroke-width="1.3" />
<text x="253.60" y="166.30" font-size="11" text-anchor="end" >0.0</text>
<line x1="258.00" y1="136.80" x2="261.30" y2="136.80" stroke="#000" stroke-width="1.3" />
<text x="253.60" y="140.10" font-size="11" text-anchor="end" >0.5</text>
<line x1="258.00" y1="110.60" x2="261.30" y2="110.60" stroke="#000" stroke-width="1.3" />
<text x="253.60" y="113.90" font-size="11" text-anchor="end" >1.0</text>
<line x1="258.00" y1="84.40" x2="261.30" y2="84.40" stroke="#000" stroke-width="1.3" />
<text x="253.60" y="87.70" font-size="11" text-anchor="end" >1.5</text>
<line x1="258.00" y1="58.20" x2="261.30" y2="58.20" stroke="#000" stroke-width="1.3" />
<text x="253.60" y="61.50" font-size="11" text-anchor="end" >2.0</text>
<line x1="258.00" y1="32.00" x2="261.30" y2="32.00" stroke="#000" stroke-width="1.3" />
<text x="253.60" y="35.30" font-size="11" text-anchor="end" >2.5</text>
<line x1="258.00" y1="149.90" x2="259.80" y2="149.90" stroke="#000" stroke-width="1.3" />
<line x1="258.00" y1="123.70" x2="259.80" y2="123.70" stroke="#000" stroke-width="1.3" />
<line x1="258.00" y1="97.50" x2="259.80" y2="97.50" stroke="#000" stroke-width="1.3" />
<line x1="258.00" y1="71.30" x2="259.80" y2="71.30" stroke="#000" stroke-width="1.3" />
<line x1="258.00" y1="45.10" x2="259.80" y2="45.10" stroke="#000" stroke-width="1.3" />
<line x1="257.80" y1="173.90" x2="257.80" y2="170.60" stroke="#000" stroke-width="1.3" />
<text x="255.60" y="185.20" font-size="11" text-anchor="middle" >0</text>
<line x1="271.12" y1="173.90" x2="271.12" y2="172.10" stroke="#000" stroke-width="1.3" />
<line x1="284.44" y1="173.90" x2="284.44" y2="170.60" stroke="#000" stroke-width="1.3" />
<text x="282.24" y="185.20" font-size="11" text-anchor="middle" >2</text>
<line x1="297.76" y1="173.90" x2="297.76" y2="172.10" stroke="#000" stroke-width="1.3" />
<line x1="311.08" y1="173.90" x2="311.08" y2="170.60" stroke="#000" stroke-width="1.3" />
<text x="308.88" y="185.20" font-size="11" text-anchor="middle" >4</text>
<line x1="324.40" y1="173.90" x2="324.40" y2="172.10" stroke="#000" stroke-width="1.3" />
<line x1="337.72" y1="173.90" x2="337.72" y2="170.60" stroke="#000" stroke-width="1.3" />
<text x="335.52" y="185.20" font-size="11" text-anchor="middle" >6</text>
<line x1="351.04" y1="173.90" x2="351.04" y2="172.10" stroke="#000" stroke-width="1.3" />
<line x1="364.36" y1="173.90" x2="364.36" y2="170.60" stroke="#000" stroke-width="1.3" />
<text x="362.16" y="185.20" font-size="11" text-anchor="middle" >8</text>
<line x1="377.68" y1="173.90" x2="377.68" y2="172.10" stroke="#000" stroke-width="1.3" />
<line x1="391.00" y1="173.90" x2="391.00" y2="170.60" stroke="#000" stroke-width="1.3" />
<text x="388.80" y="185.20" font-size="11" text-anchor="middle" >10</text>
<line x1="404.32" y1="173.90" x2="404.32" y2="172.10" stroke="#000" stroke-width="1.3" />
<line x1="417.64" y1="173.90" x2="417.64" y2="170.60" stroke="#000" stroke-width="1.3" />
<text x="415.44" y="185.20" font-size="11" text-anchor="middle" >12</text>
<line x1="430.96" y1="173.90" x2="430.96" y2="172.10" stroke="#000" stroke-width="1.3" />
<line x1="444.28" y1="173.90" x2="444.28" y2="170.60" stroke="#000" stroke-width="1.3" />
<text x="442.08" y="185.20" font-size="11" text-anchor="middle" >14</text>
<text x="350.00" y="197.70" font-size="11.4" text-anchor="middle" >Time (min)</text>
<text x="258.80" y="17.00" font-size="11" text-anchor="start" >×10<tspan dy="-4.3" font-size="7">-7</tspan><tspan dy="4.3">  (mbar)</tspan></text>
<text transform="translate(235.4,93.4) rotate(-90)" font-size="11.5" text-anchor="middle"><tspan font-style="italic">m</tspan>/<tspan font-style="italic">z</tspan> = 2</text>
<circle cx="265.30" cy="25.80" r="1.75" fill="#d3eadb" stroke="#2c7350" stroke-width="1.05"/>
<text x="270.60" y="28.90" font-size="11" text-anchor="start" >static</text>
<rect x="299.5" y="20.7" width="21.5" height="10.5" fill="#c1d7eb"/>
<text x="323.30" y="28.90" font-size="10.2" text-anchor="start" ><tspan font-style="italic">E</tspan><tspan dy="3.49" font-size="6.12">a</tspan><tspan dy="-3.49"> = -0.8 V</tspan></text>
<rect x="373.9" y="20.4" width="22.1" height="10.9" fill="#fe8490"/>
<text x="398.00" y="28.90" font-size="10.2" text-anchor="start" ><tspan font-style="italic">E</tspan><tspan dy="3.49" font-size="6.12">a</tspan><tspan dy="-3.49"> = +0.6 V</tspan></text>
<text x="435.90" y="42.60" font-size="11.6" text-anchor="start" >H<tspan dy="3.8" font-size="7.2">2</tspan></text>
<text x="232.60" y="14.50" font-size="19.5" text-anchor="start" >b</text>
<rect x="502.20" y="31.04" width="23.20" height="66.26" fill="#fdc896" stroke="#000" stroke-width="1.2"/>
<rect x="525.40" y="97.30" width="23.20" height="70.81" fill="#c3b3d7" stroke="#000" stroke-width="1.2"/>
<rect x="567.00" y="65.53" width="23.20" height="31.77" fill="#fdc896" stroke="#000" stroke-width="1.2"/>
<rect x="590.20" y="97.30" width="23.20" height="35.69" fill="#c3b3d7" stroke="#000" stroke-width="1.2"/>
<rect x="631.40" y="75.21" width="23.20" height="22.09" fill="#fdc896" stroke="#000" stroke-width="1.2"/>
<rect x="654.60" y="97.30" width="23.20" height="30.63" fill="#c3b3d7" stroke="#000" stroke-width="1.2"/>
<line x1="491.00" y1="97.30" x2="684.20" y2="97.30" stroke="#000" stroke-width="1.2" />
<rect x="491.00" y="20.60" width="193.20" height="154.40" fill="none" stroke="#000" stroke-width="1.3"/>
<line x1="491.00" y1="97.30" x2="494.30" y2="97.30" stroke="#000" stroke-width="1.3" />
<text x="487.00" y="100.60" font-size="11" text-anchor="end" >0</text>
<line x1="491.00" y1="66.30" x2="494.30" y2="66.30" stroke="#000" stroke-width="1.3" />
<text x="487.00" y="69.60" font-size="11" text-anchor="end" >8</text>
<line x1="491.00" y1="35.30" x2="494.30" y2="35.30" stroke="#000" stroke-width="1.3" />
<text x="487.00" y="38.60" font-size="11" text-anchor="end" >16</text>
<line x1="491.00" y1="81.80" x2="492.80" y2="81.80" stroke="#000" stroke-width="1.3" />
<line x1="491.00" y1="50.80" x2="492.80" y2="50.80" stroke="#000" stroke-width="1.3" />
<line x1="491.00" y1="125.40" x2="494.30" y2="125.40" stroke="#000" stroke-width="1.3" />
<text x="488.40" y="128.70" font-size="11" text-anchor="end" >−10</text>
<line x1="491.00" y1="153.50" x2="494.30" y2="153.50" stroke="#000" stroke-width="1.3" />
<text x="488.40" y="156.80" font-size="11" text-anchor="end" >−20</text>
<line x1="491.00" y1="111.35" x2="492.80" y2="111.35" stroke="#000" stroke-width="1.3" />
<line x1="491.00" y1="139.45" x2="492.80" y2="139.45" stroke="#000" stroke-width="1.3" />
<line x1="491.00" y1="167.55" x2="492.80" y2="167.55" stroke="#000" stroke-width="1.3" />
<line x1="523.00" y1="175.00" x2="523.00" y2="172.50" stroke="#000" stroke-width="1.0" />
<line x1="587.50" y1="175.00" x2="587.50" y2="172.50" stroke="#000" stroke-width="1.0" />
<line x1="652.00" y1="175.00" x2="652.00" y2="172.50" stroke="#000" stroke-width="1.0" />
<text x="523.20" y="190.40" font-size="11.4" text-anchor="middle" >static</text>
<text x="586.80" y="191.70" font-size="11.4" text-anchor="middle" ><tspan font-style="italic">E</tspan><tspan dy="3.90" font-size="6.84">a</tspan><tspan dy="-3.90"> = -0.8 V</tspan></text>
<text x="655.40" y="191.70" font-size="11.4" text-anchor="middle" ><tspan font-style="italic">E</tspan><tspan dy="3.90" font-size="6.84">a</tspan><tspan dy="-3.90"> = +0.6 V</tspan></text>
<text x="494.80" y="15.90" font-size="11" text-anchor="start" >×10<tspan dy="-4.3" font-size="7">-8</tspan><tspan dy="4.3"> (mbar)</tspan></text>
<text x="670.40" y="30.80" font-size="10.6" text-anchor="start" >H<tspan dy="4" font-size="6.8">2</tspan></text>
<text x="662.40" y="169.30" font-size="11.5" text-anchor="start" >CO<tspan dy="3.5" font-size="7">2</tspan></text>
<text transform="translate(467.0,68.5) rotate(-90)" font-size="11.5" text-anchor="middle"><tspan font-style="italic">m</tspan>/<tspan font-style="italic">z</tspan> = 2</text>
<text transform="translate(467.3,136.3) rotate(-90)" font-size="12.0" text-anchor="middle">Depl. CO<tspan dy="3" font-size="7.5">2</tspan><tspan dy="-3"> (%)</tspan></text>
<text x="450.20" y="10.60" font-size="19.5" text-anchor="start" >e</text>
<g clip-path="url(#cc)">
<polygon points="34.43,366.15 34.70,357.00 35.50,346.94 35.90,351.51 36.43,357.00 38.43,357.00 38.83,357.00 39.18,280.14 39.46,281.10 39.74,282.06 40.01,283.02 40.29,283.98 40.57,284.94 40.85,285.90 41.12,286.87 41.40,287.83 41.76,357.00 43.27,357.00 43.62,280.14 43.90,281.10 44.18,282.06 44.45,283.02 44.73,283.98 45.01,284.94 45.29,285.90 45.56,286.87 45.84,287.83 46.20,357.00 47.71,357.00 48.06,280.14 48.34,281.10 48.62,282.06 48.89,283.02 49.17,283.98 49.45,284.94 49.73,285.90 50.00,286.87 50.28,287.83 50.64,357.00 52.15,357.00 52.50,280.14 52.78,281.10 53.06,282.06 53.33,283.02 53.61,283.98 53.89,284.94 54.17,285.90 54.44,286.87 54.72,287.83 55.08,357.00 56.59,357.00 56.94,280.14 57.22,281.10 57.50,282.06 57.77,283.02 58.05,283.98 58.33,284.94 58.61,285.90 58.88,286.87 59.16,287.83 59.52,357.00 61.03,357.00 61.38,280.14 61.66,281.10 61.94,282.06 62.21,283.02 62.49,283.98 62.77,284.94 63.05,285.90 63.32,286.87 63.60,287.83 63.96,357.00 65.47,357.00 65.82,280.14 66.10,281.10 66.38,282.06 66.65,283.02 66.93,283.98 67.21,284.94 67.49,285.90 67.76,286.87 68.04,287.83 68.40,357.00 69.91,357.00 70.26,280.14 70.54,281.10 70.82,282.06 71.09,283.02 71.37,283.98 71.65,284.94 71.93,285.90 72.20,286.87 72.48,287.83 72.84,357.00 74.35,357.00 74.70,272.61 74.98,273.67 75.26,274.72 75.53,275.78 75.81,276.83 76.09,277.89 76.37,278.94 76.64,279.99 76.92,281.05 77.28,357.00 78.79,357.00 79.14,256.55 79.42,257.81 79.70,259.06 79.97,260.32 80.25,261.57 80.53,262.83 80.81,264.08 81.08,265.34 81.36,266.60 81.72,357.00 83.23,357.00 83.58,252.30 83.86,253.61 84.14,254.91 84.41,256.22 84.69,257.53 84.97,258.84 85.25,260.15 85.52,261.46 85.80,262.77 86.16,357.00 87.67,357.00 88.02,252.79 88.30,254.10 88.58,255.40 88.85,256.70 89.13,258.00 89.41,259.31 89.69,260.61 89.96,261.91 90.24,263.21 90.60,357.00 92.11,357.00 92.46,246.25 92.74,247.64 93.02,249.02 93.29,250.41 93.57,251.79 93.85,253.18 94.13,254.56 94.40,255.94 94.68,257.33 95.04,357.00 96.55,357.00 96.90,244.96 97.18,246.36 97.46,247.76 97.73,249.16 98.01,250.56 98.29,251.96 98.57,253.36 98.84,254.76 99.12,256.16 99.48,357.00 100.99,357.00 101.34,240.84 101.62,242.29 101.90,243.74 102.17,245.19 102.45,246.65 102.73,248.10 103.01,249.55 103.28,251.00 103.56,252.45 103.92,357.00 105.43,357.00 105.78,240.78 106.06,242.23 106.34,243.68 106.61,245.13 106.89,246.59 107.17,248.04 107.45,249.49 107.72,250.95 108.00,252.40 108.36,357.00 109.87,357.00 110.22,237.90 110.50,239.39 110.78,240.88 111.05,242.36 111.33,243.85 111.61,245.34 111.89,246.83 112.16,248.32 112.44,249.81 112.80,357.00 114.31,357.00 114.66,239.83 114.94,241.29 115.22,242.75 115.49,244.22 115.77,245.68 116.05,247.15 116.33,248.61 116.60,250.08 116.88,251.54 117.24,357.00 118.75,357.00 119.10,233.88 119.38,235.42 119.66,236.95 119.93,238.49 120.21,240.03 120.49,241.57 120.77,243.11 121.04,244.65 121.32,246.19 121.68,357.00 123.19,357.00 123.54,234.16 123.82,235.70 124.10,237.23 124.37,238.77 124.65,240.30 124.93,241.84 125.21,243.37 125.48,244.91 125.76,246.44 126.12,357.00 127.63,357.00 127.98,234.78 128.26,236.31 128.54,237.84 128.81,239.37 129.09,240.89 129.37,242.42 129.65,243.95 129.92,245.48 130.20,247.01 130.56,357.00 132.07,357.00 132.42,230.75 132.70,232.32 132.98,233.90 133.25,235.48 133.53,237.06 133.81,238.64 134.09,240.22 134.36,241.79 134.64,243.37 135.00,357.00 136.51,357.00 136.86,230.58 137.14,232.16 137.42,233.74 137.69,235.32 137.97,236.90 138.25,238.48 138.53,240.06 138.80,241.64 139.08,243.22 139.44,357.00 140.95,357.00 141.30,225.55 141.58,227.19 141.86,228.84 142.13,230.48 142.41,232.12 142.69,233.77 142.97,235.41 143.24,237.05 143.52,238.70 143.88,357.00 145.39,357.00 145.74,222.15 146.02,223.84 146.30,225.52 146.57,227.21 146.85,228.89 147.13,230.58 147.41,232.26 147.68,233.95 147.96,235.64 148.32,357.00 149.83,357.00 150.18,227.93 150.46,229.54 150.74,231.15 151.01,232.77 151.29,234.38 151.57,235.99 151.85,237.61 152.12,239.22 152.40,240.83 152.76,357.00 154.27,357.00 154.62,226.06 154.90,227.69 155.18,229.33 155.45,230.97 155.73,232.60 156.01,234.24 156.29,235.88 156.56,237.51 156.84,239.15 157.20,357.00 158.71,357.00 159.06,225.03 159.34,226.68 159.62,228.33 159.89,229.98 160.17,231.63 160.45,233.28 160.73,234.93 161.00,236.58 161.28,238.23 161.64,357.00 163.15,357.00 163.50,230.10 163.78,231.68 164.06,233.27 164.33,234.85 164.61,236.44 164.89,238.03 165.17,239.61 165.44,241.20 165.72,242.79 166.08,357.00 167.59,357.00 167.94,219.91 168.22,221.62 168.50,223.33 168.77,225.05 169.05,226.76 169.33,228.47 169.61,230.19 169.88,231.90 170.16,233.62 170.52,357.00 172.03,357.00 172.38,223.77 172.66,225.44 172.94,227.10 173.21,228.77 173.49,230.44 173.77,232.10 174.05,233.77 174.32,235.43 174.60,237.10 174.96,357.00 176.47,357.00 176.82,226.43 177.10,228.06 177.38,229.69 177.65,231.32 177.93,232.96 178.21,234.59 178.49,236.22 178.76,237.85 179.04,239.48 179.40,357.00 180.91,357.00 181.26,224.71 181.54,226.36 181.82,228.02 182.09,229.67 182.37,231.33 182.65,232.98 182.93,234.63 183.20,236.29 183.48,237.94 183.84,357.00 185.35,357.00 185.70,221.12 185.98,222.82 186.26,224.52 186.53,226.22 186.81,227.92 187.09,229.61 187.37,231.31 187.64,233.01 187.92,234.71 188.28,357.00 189.79,357.00 190.14,219.61 190.42,221.32 190.70,223.04 190.97,224.76 191.25,226.47 191.53,228.19 191.81,229.91 192.08,231.63 192.36,233.34 192.72,357.00 194.23,357.00 194.58,218.96 194.86,220.69 195.14,222.41 195.41,224.14 195.69,225.86 195.97,227.59 196.25,229.32 196.52,231.04 196.80,232.77 197.16,357.00 198.67,357.00 199.02,218.26 199.30,220.00 199.58,221.73 199.85,223.46 200.13,225.20 200.41,226.93 200.69,228.67 200.96,230.40 201.24,232.14 201.60,357.00 203.11,357.00 203.46,217.28 203.74,219.03 204.02,220.78 204.29,222.52 204.57,224.27 204.85,226.02 205.13,227.76 205.40,229.51 205.68,231.26 206.04,357.00 207.55,357.00 207.90,217.97 208.18,219.70 208.46,221.44 208.73,223.18 209.01,224.92 209.29,226.65 209.57,228.39 209.84,230.13 210.12,231.87 210.48,357.00 211.99,357.00 212.34,219.05 212.62,220.77 212.90,222.50 213.17,224.22 213.45,225.95 213.73,227.67 214.01,229.40 214.28,231.12 214.56,232.84 214.92,357.00 216.25,357.00 216.91,351.51 217.58,346.02 218.25,349.68 219.18,344.56 220.24,348.76 221.31,345.65 222.38,351.51 223.17,355.17 223.17,366.15" fill="#f47a83" stroke="none" stroke-width="1.0" />
<polygon points="36.69,366.15 36.69,256.35 37.76,247.20 38.43,349.68 38.83,349.68 39.18,237.36 39.54,239.45 39.89,241.54 40.25,243.64 40.60,245.73 40.96,247.82 41.31,249.92 41.67,252.01 42.02,254.11 42.47,349.68 43.27,349.68 43.62,239.54 43.98,241.59 44.33,243.65 44.69,245.70 45.04,247.76 45.40,249.81 45.75,251.87 46.11,253.92 46.46,255.98 46.91,349.68 47.71,349.68 48.06,246.37 48.42,248.31 48.77,250.24 49.13,252.18 49.48,254.11 49.84,256.05 50.19,257.99 50.55,259.92 50.90,261.86 51.35,349.68 52.15,349.68 52.50,248.80 52.86,250.69 53.21,252.59 53.57,254.48 53.92,256.37 54.28,258.27 54.63,260.16 54.99,262.05 55.34,263.95 55.79,349.68 56.59,349.68 56.94,256.97 57.30,258.72 57.65,260.47 58.01,262.22 58.36,263.97 58.72,265.72 59.07,267.47 59.43,269.22 59.78,270.98 60.23,349.68 61.03,349.68 61.38,258.18 61.74,259.91 62.09,261.64 62.45,263.37 62.80,265.10 63.16,266.83 63.51,268.56 63.87,270.29 64.22,272.02 64.67,349.68 65.47,349.68 65.82,254.04 66.18,255.84 66.53,257.64 66.89,259.44 67.24,261.25 67.60,263.05 67.95,264.85 68.31,266.65 68.66,268.45 69.11,349.68 69.91,349.68 70.26,252.70 70.62,254.52 70.97,256.35 71.33,258.17 71.68,260.00 72.04,261.82 72.39,263.65 72.75,265.47 73.10,267.30 73.55,349.68 74.35,349.68 74.70,253.60 75.06,255.41 75.41,257.22 75.77,259.02 76.12,260.83 76.48,262.64 76.83,264.45 77.19,266.26 77.54,268.07 77.99,349.68 78.79,349.68 79.14,258.76 79.50,260.48 79.85,262.20 80.21,263.92 80.56,265.64 80.92,267.36 81.27,269.08 81.63,270.80 81.98,272.52 82.43,349.68 83.23,349.68 83.58,259.35 83.94,261.06 84.29,262.76 84.65,264.47 85.00,266.18 85.36,267.89 85.71,269.60 86.07,271.31 86.42,273.02 86.87,349.68 87.67,349.68 88.02,259.12 88.38,260.84 88.73,262.55 89.09,264.26 89.44,265.98 89.80,267.69 90.15,269.40 90.51,271.11 90.86,272.83 91.31,349.68 92.11,349.68 92.46,259.86 92.82,261.56 93.17,263.26 93.53,264.96 93.88,266.66 94.24,268.36 94.59,270.06 94.95,271.76 95.30,273.46 95.75,349.68 96.55,349.68 96.90,259.74 97.26,261.44 97.61,263.14 97.97,264.85 98.32,266.55 98.68,268.25 99.03,269.95 99.39,271.65 99.74,273.36 100.19,349.68 100.99,349.68 101.34,258.76 101.70,260.48 102.05,262.20 102.41,263.92 102.76,265.64 103.12,267.36 103.47,269.08 103.83,270.80 104.18,272.52 104.63,349.68 105.43,349.68 105.78,261.75 106.14,263.42 106.49,265.09 106.85,266.75 107.20,268.42 107.56,270.09 107.91,271.76 108.27,273.42 108.62,275.09 109.07,349.68 109.87,349.68 110.22,260.10 110.58,261.80 110.93,263.49 111.29,265.19 111.64,266.88 112.00,268.58 112.35,270.27 112.71,271.97 113.06,273.67 113.51,349.68 114.31,349.68 114.66,259.70 115.02,261.40 115.37,263.10 115.73,264.81 116.08,266.51 116.44,268.21 116.79,269.92 117.15,271.62 117.50,273.32 117.95,349.68 118.75,349.68 119.10,263.40 119.46,265.04 119.81,266.67 120.17,268.31 120.52,269.95 120.88,271.59 121.23,273.23 121.59,274.86 121.94,276.50 122.39,349.68 123.19,349.68 123.54,261.15 123.90,262.83 124.25,264.51 124.61,266.18 124.96,267.86 125.32,269.54 125.67,271.22 126.03,272.89 126.38,274.57 126.83,349.68 127.63,349.68 127.98,261.25 128.34,262.93 128.69,264.60 129.05,266.28 129.40,267.96 129.76,269.63 130.11,271.31 130.47,272.98 130.82,274.66 131.27,349.68 132.07,349.68 132.42,260.75 132.78,262.43 133.13,264.12 133.49,265.80 133.84,267.48 134.20,269.17 134.55,270.85 134.91,272.54 135.26,274.22 135.71,349.68 136.51,349.68 136.86,261.50 137.22,263.17 137.57,264.84 137.93,266.51 138.28,268.18 138.64,269.85 138.99,271.52 139.35,273.19 139.70,274.87 140.15,349.68 140.95,349.68 141.30,265.51 141.66,267.11 142.01,268.71 142.37,270.31 142.72,271.91 143.08,273.51 143.43,275.11 143.79,276.71 144.14,278.31 144.59,349.68 145.39,349.68 145.74,267.07 146.10,268.65 146.45,270.22 146.81,271.79 147.16,273.37 147.52,274.94 147.87,276.51 148.23,278.09 148.58,279.66 149.03,349.68 149.83,349.68 150.18,265.54 150.54,267.14 150.89,268.74 151.25,270.34 151.60,271.94 151.96,273.54 152.31,275.14 152.67,276.74 153.02,278.34 153.47,349.68 154.27,349.68 154.62,266.20 154.98,267.79 155.33,269.38 155.69,270.97 156.04,272.55 156.40,274.14 156.75,275.73 157.11,277.32 157.46,278.91 157.91,349.68 158.71,349.68 159.06,265.64 159.42,267.24 159.77,268.84 160.13,270.44 160.48,272.04 160.84,273.64 161.19,275.24 161.55,276.83 161.90,278.43 162.35,349.68 163.15,349.68 163.50,268.46 163.86,270.01 164.21,271.56 164.57,273.11 164.92,274.66 165.28,276.21 165.63,277.76 165.99,279.31 166.34,280.86 166.79,349.68 167.59,349.68 167.94,266.86 168.30,268.44 168.65,270.01 169.01,271.59 169.36,273.17 169.72,274.75 170.07,276.32 170.43,277.90 170.78,279.48 171.23,349.68 172.03,349.68 172.38,269.27 172.74,270.81 173.09,272.34 173.45,273.88 173.80,275.41 174.16,276.95 174.51,278.49 174.87,280.02 175.22,281.56 175.67,349.68 176.47,349.68 176.82,267.91 177.18,269.46 177.53,271.02 177.89,272.58 178.24,274.14 178.60,275.70 178.95,277.26 179.31,278.82 179.66,280.38 180.11,349.68 180.91,349.68 181.26,268.56 181.62,270.11 181.97,271.66 182.33,273.21 182.68,274.75 183.04,276.30 183.39,277.85 183.75,279.40 184.10,280.94 184.55,349.68 185.35,349.68 185.70,269.60 186.06,271.13 186.41,272.66 186.77,274.19 187.12,275.72 187.48,277.25 187.83,278.78 188.19,280.31 188.54,281.84 188.99,349.68 189.79,349.68 190.14,268.54 190.50,270.08 190.85,271.63 191.21,273.18 191.56,274.73 191.92,276.28 192.27,277.83 192.63,279.37 192.98,280.92 193.43,349.68 194.23,349.68 194.58,269.46 194.94,270.99 195.29,272.52 195.65,274.06 196.00,275.59 196.36,277.12 196.71,278.65 197.07,280.18 197.42,281.72 197.87,349.68 198.67,349.68 199.02,269.46 199.38,270.99 199.73,272.52 200.09,274.05 200.44,275.58 200.80,277.12 201.15,278.65 201.51,280.18 201.86,281.71 202.31,349.68 203.11,349.68 203.46,268.90 203.82,270.44 204.17,271.98 204.53,273.52 204.88,275.07 205.24,276.61 205.59,278.15 205.95,279.69 206.30,281.23 206.75,349.68 207.55,349.68 207.90,271.18 208.26,272.68 208.61,274.19 208.97,275.69 209.32,277.19 209.68,278.69 210.03,280.19 210.39,281.70 210.74,283.20 211.19,349.68 211.99,349.68 212.34,272.24 212.70,273.72 213.05,275.20 213.41,276.69 213.76,278.17 214.12,279.65 214.47,281.14 214.83,282.62 215.18,284.10 215.63,349.68 216.91,349.68 216.91,366.15" fill="url(#gc)" stroke="none" stroke-width="1.0" />
<path d="M41.93,342.36V278.31 M46.37,342.36V278.31 M50.81,342.36V278.31 M55.25,342.36V278.31 M59.69,342.36V278.31 M64.13,342.36V278.31 M68.57,342.36V278.31 M73.01,342.36V278.31 M77.45,342.36V278.31 M81.89,342.36V278.31 M86.33,342.36V278.31 M90.77,342.36V278.31 M95.21,342.36V278.31 M99.65,342.36V278.31 M104.09,342.36V278.31 M108.53,342.36V278.31 M112.97,342.36V278.31 M117.41,342.36V278.31 M121.85,342.36V278.31 M126.29,342.36V278.31 M130.73,342.36V278.31 M135.17,342.36V278.31 M139.61,342.36V278.31 M144.05,342.36V278.31 M148.49,342.36V278.31 M152.93,342.36V278.31 M157.37,342.36V278.31 M161.81,342.36V278.31 M166.25,342.36V278.31 M170.69,342.36V278.31 M175.13,342.36V278.31 M179.57,342.36V278.31 M184.01,342.36V278.31 M188.45,342.36V278.31 M192.89,342.36V278.31 M197.33,342.36V278.31 M201.77,342.36V278.31 M206.21,342.36V278.31 M210.65,342.36V278.31 M215.09,342.36V278.31" stroke="#f4a0a8" stroke-width="0.6" stroke-opacity="0.3" fill="none"/>
<path d="M40.60,338.70V259.46 M45.04,338.70V261.64 M49.48,338.70V266.85 M53.92,338.70V268.76 M58.36,338.70V275.68 M62.80,338.70V276.97 M67.24,338.70V272.22 M71.68,338.70V271.92 M76.12,338.70V273.17 M80.56,338.70V277.34 M85.00,338.70V276.73 M89.44,338.70V277.44 M93.88,338.70V278.22 M98.32,338.70V277.42 M102.76,338.70V276.74 M107.20,338.70V278.62 M111.64,338.70V277.74 M116.08,338.70V277.47 M120.52,338.70V279.24 M124.96,338.70V278.74 M129.40,338.70V279.67 M133.84,338.70V278.98 M138.28,338.70V279.23 M142.72,338.70V281.71 M147.16,338.70V283.82 M151.60,338.70V282.20 M156.04,338.70V282.40 M160.48,338.70V282.90 M164.92,338.70V283.40 M169.36,338.70V283.69 M173.80,338.70V283.94 M178.24,338.70V284.19 M182.68,338.70V284.44 M187.12,338.70V284.69 M191.56,338.70V284.94 M196.00,338.70V285.21 M200.44,338.70V285.49 M204.88,338.70V285.77 M209.32,338.70V286.04 M213.76,338.70V286.32" stroke="#eaf6fb" stroke-width="0.6" stroke-opacity="0.7" fill="none"/>
<path d="M41.83,350.60L42.73,327.72L43.63,350.60Z M46.27,350.60L47.17,327.72L48.07,350.60Z M50.71,350.60L51.61,327.72L52.51,350.60Z M55.15,350.60L56.05,327.72L56.95,350.60Z M59.59,350.60L60.49,327.72L61.39,350.60Z M64.03,350.60L64.93,327.72L65.83,350.60Z M68.47,350.60L69.37,327.72L70.27,350.60Z M72.91,350.60L73.81,327.72L74.71,350.60Z M77.35,350.60L78.25,327.72L79.15,350.60Z M81.79,350.60L82.69,327.72L83.59,350.60Z M86.23,350.60L87.13,327.72L88.03,350.60Z M90.67,350.60L91.57,327.72L92.47,350.60Z M95.11,350.60L96.01,327.72L96.91,350.60Z M99.55,350.60L100.45,327.72L101.35,350.60Z M103.99,350.60L104.89,327.72L105.79,350.60Z M108.43,350.60L109.33,327.72L110.23,350.60Z M112.87,350.60L113.77,327.72L114.67,350.60Z M117.31,350.60L118.21,327.72L119.11,350.60Z M121.75,350.60L122.65,327.72L123.55,350.60Z M126.19,350.60L127.09,327.72L127.99,350.60Z M130.63,350.60L131.53,327.72L132.43,350.60Z M135.07,350.60L135.97,327.72L136.87,350.60Z M139.51,350.60L140.41,327.72L141.31,350.60Z M143.95,350.60L144.85,327.72L145.75,350.60Z M148.39,350.60L149.29,327.72L150.19,350.60Z M152.83,350.60L153.73,327.72L154.63,350.60Z M157.27,350.60L158.17,327.72L159.07,350.60Z M161.71,350.60L162.61,327.72L163.51,350.60Z M166.15,350.60L167.05,327.72L167.95,350.60Z M170.59,350.60L171.49,327.72L172.39,350.60Z M175.03,350.60L175.93,327.72L176.83,350.60Z M179.47,350.60L180.37,327.72L181.27,350.60Z M183.91,350.60L184.81,327.72L185.71,350.60Z M188.35,350.60L189.25,327.72L190.15,350.60Z M192.79,350.60L193.69,327.72L194.59,350.60Z M197.23,350.60L198.13,327.72L199.03,350.60Z M201.67,350.60L202.57,327.72L203.47,350.60Z M206.11,350.60L207.01,327.72L207.91,350.60Z M210.55,350.60L211.45,327.72L212.35,350.60Z M214.99,350.60L215.89,327.72L216.79,350.60Z" fill="#b2e4f6"/>
</g>
<circle cx="31.10" cy="359.20" r="1.75" fill="#d3eadb" stroke="#2c7350" stroke-width="1.05"/>
<circle cx="37.23" cy="359.20" r="1.75" fill="#d3eadb" stroke="#2c7350" stroke-width="1.05"/>
<circle cx="42.82" cy="293.87" r="1.75" fill="#d3eadb" stroke="#2c7350" stroke-width="1.05"/>
<circle cx="49.02" cy="292.03" r="1.75" fill="#d3eadb" stroke="#2c7350" stroke-width="1.05"/>
<circle cx="55.21" cy="298.44" r="1.75" fill="#d3eadb" stroke="#2c7350" stroke-width="1.05"/>
<circle cx="61.40" cy="290.20" r="1.75" fill="#d3eadb" stroke="#2c7350" stroke-width="1.05"/>
<circle cx="67.60" cy="291.12" r="1.75" fill="#d3eadb" stroke="#2c7350" stroke-width="1.05"/>
<circle cx="73.79" cy="292.03" r="1.75" fill="#d3eadb" stroke="#2c7350" stroke-width="1.05"/>
<circle cx="79.98" cy="289.29" r="1.75" fill="#d3eadb" stroke="#2c7350" stroke-width="1.05"/>
<circle cx="86.18" cy="293.87" r="1.75" fill="#d3eadb" stroke="#2c7350" stroke-width="1.05"/>
<circle cx="92.37" cy="296.61" r="1.75" fill="#d3eadb" stroke="#2c7350" stroke-width="1.05"/>
<circle cx="98.57" cy="294.78" r="1.75" fill="#d3eadb" stroke="#2c7350" stroke-width="1.05"/>
<circle cx="104.76" cy="292.95" r="1.75" fill="#d3eadb" stroke="#2c7350" stroke-width="1.05"/>
<circle cx="110.95" cy="292.03" r="1.75" fill="#d3eadb" stroke="#2c7350" stroke-width="1.05"/>
<circle cx="117.15" cy="289.29" r="1.75" fill="#d3eadb" stroke="#2c7350" stroke-width="1.05"/>
<circle cx="123.34" cy="294.78" r="1.75" fill="#d3eadb" stroke="#2c7350" stroke-width="1.05"/>
<circle cx="129.53" cy="291.12" r="1.75" fill="#d3eadb" stroke="#2c7350" stroke-width="1.05"/>
<circle cx="135.73" cy="294.78" r="1.75" fill="#d3eadb" stroke="#2c7350" stroke-width="1.05"/>
<circle cx="141.92" cy="298.44" r="1.75" fill="#d3eadb" stroke="#2c7350" stroke-width="1.05"/>
<circle cx="148.12" cy="292.95" r="1.75" fill="#d3eadb" stroke="#2c7350" stroke-width="1.05"/>
<circle cx="154.31" cy="287.46" r="1.75" fill="#d3eadb" stroke="#2c7350" stroke-width="1.05"/>
<circle cx="160.50" cy="288.38" r="1.75" fill="#d3eadb" stroke="#2c7350" stroke-width="1.05"/>
<circle cx="166.70" cy="293.87" r="1.75" fill="#d3eadb" stroke="#2c7350" stroke-width="1.05"/>
<circle cx="172.89" cy="293.87" r="1.75" fill="#d3eadb" stroke="#2c7350" stroke-width="1.05"/>
<circle cx="179.09" cy="292.03" r="1.75" fill="#d3eadb" stroke="#2c7350" stroke-width="1.05"/>
<circle cx="185.28" cy="288.38" r="1.75" fill="#d3eadb" stroke="#2c7350" stroke-width="1.05"/>
<circle cx="191.47" cy="295.69" r="1.75" fill="#d3eadb" stroke="#2c7350" stroke-width="1.05"/>
<circle cx="197.67" cy="288.38" r="1.75" fill="#d3eadb" stroke="#2c7350" stroke-width="1.05"/>
<circle cx="203.86" cy="292.95" r="1.75" fill="#d3eadb" stroke="#2c7350" stroke-width="1.05"/>
<circle cx="210.05" cy="292.95" r="1.75" fill="#d3eadb" stroke="#2c7350" stroke-width="1.05"/>
<circle cx="218.25" cy="357.92" r="1.75" fill="#d3eadb" stroke="#2c7350" stroke-width="1.05"/>
<circle cx="224.24" cy="359.20" r="1.75" fill="#d3eadb" stroke="#2c7350" stroke-width="1.05"/>
<rect x="31.00" y="210.40" width="193.10" height="154.70" fill="none" stroke="#000" stroke-width="1.3"/>
<line x1="31.00" y1="357.00" x2="34.30" y2="357.00" stroke="#000" stroke-width="1.3" />
<text x="26.10" y="360.30" font-size="11" text-anchor="end" >0</text>
<line x1="31.00" y1="320.40" x2="34.30" y2="320.40" stroke="#000" stroke-width="1.3" />
<text x="26.10" y="323.70" font-size="11" text-anchor="end" >2</text>
<line x1="31.00" y1="283.80" x2="34.30" y2="283.80" stroke="#000" stroke-width="1.3" />
<text x="26.10" y="287.10" font-size="11" text-anchor="end" >4</text>
<line x1="31.00" y1="247.20" x2="34.30" y2="247.20" stroke="#000" stroke-width="1.3" />
<text x="26.10" y="250.50" font-size="11" text-anchor="end" >6</text>
<text x="26.10" y="213.90" font-size="11" text-anchor="end" >8</text>
<line x1="31.00" y1="338.70" x2="32.80" y2="338.70" stroke="#000" stroke-width="1.3" />
<line x1="31.00" y1="302.10" x2="32.80" y2="302.10" stroke="#000" stroke-width="1.3" />
<line x1="31.00" y1="265.50" x2="32.80" y2="265.50" stroke="#000" stroke-width="1.3" />
<line x1="31.00" y1="228.90" x2="32.80" y2="228.90" stroke="#000" stroke-width="1.3" />
<line x1="31.10" y1="365.10" x2="31.10" y2="361.80" stroke="#000" stroke-width="1.3" />
<text x="29.90" y="375.50" font-size="11" text-anchor="middle" >0</text>
<line x1="44.42" y1="365.10" x2="44.42" y2="363.30" stroke="#000" stroke-width="1.3" />
<line x1="57.74" y1="365.10" x2="57.74" y2="361.80" stroke="#000" stroke-width="1.3" />
<text x="56.54" y="375.50" font-size="11" text-anchor="middle" >2</text>
<line x1="71.06" y1="365.10" x2="71.06" y2="363.30" stroke="#000" stroke-width="1.3" />
<line x1="84.38" y1="365.10" x2="84.38" y2="361.80" stroke="#000" stroke-width="1.3" />
<text x="83.18" y="375.50" font-size="11" text-anchor="middle" >4</text>
<line x1="97.70" y1="365.10" x2="97.70" y2="363.30" stroke="#000" stroke-width="1.3" />
<line x1="111.02" y1="365.10" x2="111.02" y2="361.80" stroke="#000" stroke-width="1.3" />
<text x="109.82" y="375.50" font-size="11" text-anchor="middle" >6</text>
<line x1="124.34" y1="365.10" x2="124.34" y2="363.30" stroke="#000" stroke-width="1.3" />
<line x1="137.66" y1="365.10" x2="137.66" y2="361.80" stroke="#000" stroke-width="1.3" />
<text x="136.46" y="375.50" font-size="11" text-anchor="middle" >8</text>
<line x1="150.98" y1="365.10" x2="150.98" y2="363.30" stroke="#000" stroke-width="1.3" />
<line x1="164.30" y1="365.10" x2="164.30" y2="361.80" stroke="#000" stroke-width="1.3" />
<text x="163.10" y="375.50" font-size="11" text-anchor="middle" >10</text>
<line x1="177.62" y1="365.10" x2="177.62" y2="363.30" stroke="#000" stroke-width="1.3" />
<line x1="190.94" y1="365.10" x2="190.94" y2="361.80" stroke="#000" stroke-width="1.3" />
<text x="189.74" y="375.50" font-size="11" text-anchor="middle" >12</text>
<line x1="204.26" y1="365.10" x2="204.26" y2="363.30" stroke="#000" stroke-width="1.3" />
<line x1="217.58" y1="365.10" x2="217.58" y2="361.80" stroke="#000" stroke-width="1.3" />
<text x="216.38" y="375.50" font-size="11" text-anchor="middle" >14</text>
<text x="126.60" y="388.40" font-size="11.4" text-anchor="middle" >Time (min)</text>
<text x="32.60" y="207.60" font-size="11" text-anchor="start" >×10<tspan dy="-4.3" font-size="7">-9</tspan><tspan dy="4.3"> (mbar)</tspan></text>
<text x="34.00" y="222.60" font-size="12" text-anchor="start" >CO</text>
<text transform="translate(12.4,288.8) rotate(-90)" font-size="12.8" text-anchor="middle">Deconvoluted <tspan font-style="italic">m</tspan>/<tspan font-style="italic">z</tspan> = 28</text>
<text x="6.80" y="203.60" font-size="19.5" text-anchor="start" >c</text>
<g clip-path="url(#cd)">
<polygon points="264.31,367.90 265.38,345.40 265.60,273.40 265.85,275.53 266.10,277.14 266.35,278.36 266.60,279.28 266.85,279.97 267.10,280.49 267.35,280.89 267.60,281.18 268.04,345.40 269.82,345.40 270.04,273.40 270.29,275.53 270.54,277.14 270.79,278.36 271.04,279.28 271.29,279.97 271.54,280.49 271.79,280.89 272.04,281.18 272.49,345.40 274.26,345.40 274.48,266.34 274.73,268.64 274.98,270.38 275.23,271.70 275.48,272.69 275.73,273.44 275.98,274.00 276.23,274.43 276.48,274.75 276.93,345.40 278.70,345.40 278.93,261.25 279.18,263.68 279.43,265.51 279.68,266.90 279.92,267.94 280.17,268.73 280.42,269.33 280.67,269.78 280.92,270.12 281.37,345.40 283.15,345.40 283.37,267.67 283.62,269.94 283.87,271.65 284.12,272.95 284.37,273.93 284.62,274.67 284.87,275.22 285.12,275.64 285.37,275.96 285.81,345.40 287.59,345.40 287.81,268.11 288.06,270.37 288.31,272.08 288.56,273.37 288.81,274.34 289.06,275.08 289.31,275.63 289.56,276.05 289.81,276.37 290.25,345.40 292.03,345.40 292.25,258.17 292.50,260.68 292.75,262.57 293.00,264.00 293.25,265.08 293.50,265.89 293.75,266.50 294.00,266.97 294.25,267.32 294.69,345.40 296.47,345.40 296.69,261.49 296.94,263.92 297.19,265.75 297.44,267.13 297.69,268.17 297.94,268.96 298.19,269.55 298.44,270.00 298.69,270.34 299.14,345.40 300.91,345.40 301.13,264.43 301.38,266.79 301.63,268.56 301.88,269.90 302.13,270.91 302.38,271.68 302.63,272.26 302.88,272.69 303.13,273.02 303.58,345.40 305.35,345.40 305.58,258.36 305.83,260.86 306.08,262.75 306.33,264.18 306.57,265.25 306.82,266.06 307.07,266.68 307.32,267.14 307.57,267.49 308.02,345.40 309.80,345.40 310.02,265.99 310.27,268.30 310.52,270.05 310.77,271.37 311.02,272.36 311.27,273.11 311.52,273.68 311.77,274.11 312.02,274.43 312.46,345.40 314.24,345.40 314.46,261.41 314.71,263.84 314.96,265.67 315.21,267.05 315.46,268.10 315.71,268.88 315.96,269.48 316.21,269.93 316.46,270.27 316.90,345.40 318.68,345.40 318.90,267.72 319.15,269.99 319.40,271.71 319.65,273.00 319.90,273.98 320.15,274.72 320.40,275.27 320.65,275.69 320.90,276.01 321.34,345.40 323.12,345.40 323.34,264.58 323.59,266.93 323.84,268.71 324.09,270.04 324.34,271.05 324.59,271.82 324.84,272.39 325.09,272.83 325.34,273.15 325.79,345.40 327.56,345.40 327.78,259.52 328.03,261.99 328.28,263.86 328.53,265.27 328.78,266.33 329.03,267.14 329.28,267.74 329.53,268.20 329.78,268.54 330.23,345.40 332.00,345.40 332.23,258.06 332.48,260.57 332.73,262.46 332.98,263.89 333.22,264.97 333.47,265.78 333.72,266.40 333.97,266.86 334.22,267.21 334.67,345.40 336.45,345.40 336.67,258.52 336.92,261.01 337.17,262.90 337.42,264.32 337.67,265.40 337.92,266.21 338.17,266.82 338.42,267.28 338.67,267.63 339.11,345.40 340.89,345.40 341.11,265.21 341.36,267.54 341.61,269.31 341.86,270.64 342.11,271.64 342.36,272.40 342.61,272.97 342.86,273.40 343.11,273.73 343.55,345.40 345.33,345.40 345.55,262.53 345.80,264.93 346.05,266.74 346.30,268.11 346.55,269.14 346.80,269.92 347.05,270.50 347.30,270.95 347.55,271.28 347.99,345.40 349.77,345.40 349.99,266.13 350.24,268.44 350.49,270.18 350.74,271.50 350.99,272.49 351.24,273.24 351.49,273.81 351.74,274.24 351.99,274.56 352.44,345.40 354.21,345.40 354.43,268.56 354.68,270.81 354.93,272.51 355.18,273.80 355.43,274.76 355.68,275.49 355.93,276.05 356.18,276.46 356.43,276.78 356.88,345.40 358.65,345.40 358.88,263.70 359.13,266.07 359.38,267.86 359.63,269.21 359.87,270.23 360.12,271.00 360.37,271.58 360.62,272.02 360.87,272.35 361.32,345.40 363.10,345.40 363.32,259.10 363.57,261.58 363.82,263.46 364.07,264.87 364.32,265.94 364.57,266.75 364.82,267.36 365.07,267.81 365.32,268.16 365.76,345.40 367.54,345.40 367.76,258.94 368.01,261.43 368.26,263.31 368.51,264.72 368.76,265.79 369.01,266.60 369.26,267.21 369.51,267.67 369.76,268.02 370.20,345.40 371.98,345.40 372.20,260.80 372.45,263.24 372.70,265.08 372.95,266.47 373.20,267.53 373.45,268.32 373.70,268.92 373.95,269.37 374.20,269.71 374.64,345.40 376.42,345.40 376.64,257.57 376.89,260.10 377.14,262.00 377.39,263.44 377.64,264.52 377.89,265.34 378.14,265.96 378.39,266.42 378.64,266.77 379.09,345.40 380.86,345.40 381.08,266.66 381.33,268.96 381.58,270.70 381.83,272.01 382.08,272.99 382.33,273.74 382.58,274.30 382.83,274.73 383.08,275.05 383.53,345.40 385.30,345.40 385.53,268.12 385.78,270.38 386.03,272.09 386.28,273.38 386.52,274.35 386.77,275.08 387.02,275.64 387.27,276.06 387.52,276.37 387.97,345.40 389.75,345.40 389.97,264.32 390.22,266.67 390.47,268.45 390.72,269.79 390.97,270.81 391.22,271.57 391.47,272.15 391.72,272.58 391.97,272.91 392.41,345.40 394.19,345.40 394.41,266.69 394.66,268.98 394.91,270.72 395.16,272.03 395.41,273.01 395.66,273.76 395.91,274.32 396.16,274.75 396.41,275.07 396.85,345.40 398.63,345.40 398.85,267.51 399.10,269.79 399.35,271.51 399.60,272.80 399.85,273.78 400.10,274.52 400.35,275.08 400.60,275.50 400.85,275.82 401.29,345.40 403.07,345.40 403.29,264.81 403.54,267.15 403.79,268.92 404.04,270.26 404.29,271.27 404.54,272.03 404.79,272.60 405.04,273.04 405.29,273.36 405.74,345.40 407.51,345.40 407.73,261.95 407.98,264.37 408.23,266.19 408.48,267.56 408.73,268.60 408.98,269.38 409.23,269.98 409.48,270.42 409.73,270.76 410.18,345.40 411.95,345.40 412.18,263.73 412.43,266.10 412.68,267.89 412.93,269.24 413.17,270.26 413.42,271.03 413.67,271.61 413.92,272.05 414.17,272.38 414.62,345.40 416.40,345.40 416.62,266.14 416.87,268.45 417.12,270.20 417.37,271.51 417.62,272.51 417.87,273.26 418.12,273.82 418.37,274.25 418.62,274.57 419.06,345.40 420.84,345.40 421.06,259.07 421.31,261.56 421.56,263.43 421.81,264.85 422.06,265.92 422.31,266.72 422.56,267.33 422.81,267.79 423.06,268.14 423.50,345.40 425.28,345.40 425.50,257.14 425.75,259.67 426.00,261.58 426.25,263.03 426.50,264.12 426.75,264.94 427.00,265.56 427.25,266.03 427.50,266.38 427.94,345.40 429.72,345.40 429.94,264.29 430.19,266.65 430.44,268.43 430.69,269.77 430.94,270.78 431.19,271.55 431.44,272.12 431.69,272.56 431.94,272.89 432.39,345.40 434.16,345.40 434.38,269.39 434.63,271.62 434.88,273.31 435.13,274.58 435.38,275.54 435.63,276.26 435.88,276.81 436.13,277.22 436.38,277.53 436.83,345.40 438.60,345.40 438.83,269.97 439.08,272.19 439.33,273.87 439.58,275.13 439.82,276.08 440.07,276.80 440.32,277.34 440.57,277.75 440.82,278.06 441.27,345.40 443.53,345.40 443.53,367.90" fill="#f47a83" stroke="none" stroke-width="1.0" />
<path d="M273.59,285.40L274.59,244.93L275.99,285.40Z M274.93,285.40L275.93,270.34L277.33,285.40Z M278.04,285.40L279.04,248.94L280.44,285.40Z M279.37,285.40L280.37,260.37L281.77,285.40Z M282.48,285.40L283.48,258.69L284.88,285.40Z M283.81,285.40L284.81,256.21L286.21,285.40Z M286.92,285.40L287.92,265.77L289.32,285.40Z M288.25,285.40L289.25,268.56L290.65,285.40Z M291.36,285.40L292.36,255.13L293.76,285.40Z M292.69,285.40L293.69,270.65L295.09,285.40Z M295.80,285.40L296.80,245.98L298.20,285.40Z M297.14,285.40L298.14,266.65L299.54,285.40Z M300.24,285.40L301.24,262.80L302.64,285.40Z M301.58,285.40L302.58,270.24L303.98,285.40Z M304.69,285.40L305.69,250.88L307.09,285.40Z M306.02,285.40L307.02,262.71L308.42,285.40Z M309.13,285.40L310.13,250.86L311.53,285.40Z M310.46,285.40L311.46,258.78L312.86,285.40Z M313.57,285.40L314.57,246.53L315.97,285.40Z M314.90,285.40L315.90,253.07L317.30,285.40Z M318.01,285.40L319.01,249.53L320.41,285.40Z M319.34,285.40L320.34,267.37L321.74,285.40Z M322.45,285.40L323.45,254.64L324.85,285.40Z M323.79,285.40L324.79,267.75L326.19,285.40Z M326.89,285.40L327.89,265.97L329.29,285.40Z M328.23,285.40L329.23,262.23L330.63,285.40Z M331.34,285.40L332.34,248.80L333.74,285.40Z M332.67,285.40L333.67,267.75L335.07,285.40Z M335.78,285.40L336.78,259.59L338.18,285.40Z M337.11,285.40L338.11,264.61L339.51,285.40Z M340.22,285.40L341.22,249.21L342.62,285.40Z M341.55,285.40L342.55,261.32L343.95,285.40Z M344.66,285.40L345.66,251.24L347.06,285.40Z M345.99,285.40L346.99,256.88L348.39,285.40Z M349.10,285.40L350.10,256.63L351.50,285.40Z M350.44,285.40L351.44,256.21L352.84,285.40Z M353.54,285.40L354.54,244.11L355.94,285.40Z M354.88,285.40L355.88,269.48L357.28,285.40Z M357.99,285.40L358.99,243.47L360.39,285.40Z M359.32,285.40L360.32,257.52L361.72,285.40Z M362.43,285.40L363.43,263.07L364.83,285.40Z M363.76,285.40L364.76,262.58L366.16,285.40Z M366.87,285.40L367.87,250.97L369.27,285.40Z M368.20,285.40L369.20,253.98L370.60,285.40Z M371.31,285.40L372.31,257.04L373.71,285.40Z M372.64,285.40L373.64,260.41L375.04,285.40Z M375.75,285.40L376.75,244.77L378.15,285.40Z M377.09,285.40L378.09,256.11L379.49,285.40Z M380.19,285.40L381.19,243.19L382.59,285.40Z M381.53,285.40L382.53,262.39L383.93,285.40Z M384.64,285.40L385.64,250.34L387.04,285.40Z M385.97,285.40L386.97,267.26L388.37,285.40Z M389.08,285.40L390.08,248.61L391.48,285.40Z M390.41,285.40L391.41,255.71L392.81,285.40Z M393.52,285.40L394.52,250.57L395.92,285.40Z M394.85,285.40L395.85,257.60L397.25,285.40Z M397.96,285.40L398.96,261.03L400.36,285.40Z M399.29,285.40L400.29,254.17L401.69,285.40Z M402.40,285.40L403.40,242.30L404.80,285.40Z M403.74,285.40L404.74,252.71L406.14,285.40Z M406.84,285.40L407.84,253.13L409.24,285.40Z M408.18,285.40L409.18,256.23L410.58,285.40Z M411.29,285.40L412.29,258.42L413.69,285.40Z M412.62,285.40L413.62,253.98L415.02,285.40Z M415.73,285.40L416.73,245.35L418.13,285.40Z M417.06,285.40L418.06,264.56L419.46,285.40Z M420.17,285.40L421.17,264.22L422.57,285.40Z M421.50,285.40L422.50,262.82L423.90,285.40Z M424.61,285.40L425.61,252.80L427.01,285.40Z M425.94,285.40L426.94,256.65L428.34,285.40Z M429.05,285.40L430.05,254.34L431.45,285.40Z M430.39,285.40L431.39,270.58L432.79,285.40Z M433.49,285.40L434.49,246.48L435.89,285.40Z M434.83,285.40L435.83,269.91L437.23,285.40Z M437.94,285.40L438.94,246.71L440.34,285.40Z M439.27,285.40L440.27,267.86L441.67,285.40Z" fill="#f58f98" fill-opacity="0.8"/>
<path d="M274.24,285.40L274.79,236.24L275.34,285.40Z M275.58,285.40L276.13,263.56L276.68,285.40Z M278.69,285.40L279.24,240.55L279.79,285.40Z M280.02,285.40L280.57,252.85L281.12,285.40Z M283.13,285.40L283.68,251.04L284.23,285.40Z M284.46,285.40L285.01,248.37L285.56,285.40Z M287.57,285.40L288.12,258.65L288.67,285.40Z M288.90,285.40L289.45,261.65L290.00,285.40Z M292.01,285.40L292.56,247.21L293.11,285.40Z M293.34,285.40L293.89,263.90L294.44,285.40Z M296.45,285.40L297.00,237.37L297.55,285.40Z M297.79,285.40L298.34,259.59L298.89,285.40Z M300.89,285.40L301.44,255.45L301.99,285.40Z M302.23,285.40L302.78,263.45L303.33,285.40Z M305.34,285.40L305.89,242.63L306.44,285.40Z M306.67,285.40L307.22,255.36L307.77,285.40Z M309.78,285.40L310.33,242.61L310.88,285.40Z M311.11,285.40L311.66,251.14L312.21,285.40Z M314.22,285.40L314.77,237.96L315.32,285.40Z M315.55,285.40L316.10,244.99L316.65,285.40Z M318.66,285.40L319.21,241.18L319.76,285.40Z M319.99,285.40L320.54,260.36L321.09,285.40Z M323.10,285.40L323.65,246.68L324.20,285.40Z M324.44,285.40L324.99,260.78L325.54,285.40Z M327.54,285.40L328.09,258.87L328.64,285.40Z M328.88,285.40L329.43,254.84L329.98,285.40Z M331.99,285.40L332.54,240.40L333.09,285.40Z M333.32,285.40L333.87,260.77L334.42,285.40Z M336.43,285.40L336.98,252.00L337.53,285.40Z M337.76,285.40L338.31,257.40L338.86,285.40Z M340.87,285.40L341.42,240.85L341.97,285.40Z M342.20,285.40L342.75,253.86L343.30,285.40Z M345.31,285.40L345.86,243.02L346.41,285.40Z M346.64,285.40L347.19,249.09L347.74,285.40Z M349.75,285.40L350.30,248.82L350.85,285.40Z M351.09,285.40L351.64,248.36L352.19,285.40Z M354.19,285.40L354.74,235.36L355.29,285.40Z M355.53,285.40L356.08,262.63L356.63,285.40Z M358.64,285.40L359.19,234.67L359.74,285.40Z M359.97,285.40L360.52,249.77L361.07,285.40Z M363.08,285.40L363.63,255.74L364.18,285.40Z M364.41,285.40L364.96,255.22L365.51,285.40Z M367.52,285.40L368.07,242.73L368.62,285.40Z M368.85,285.40L369.40,245.97L369.95,285.40Z M371.96,285.40L372.51,249.26L373.06,285.40Z M373.29,285.40L373.84,252.88L374.39,285.40Z M376.40,285.40L376.95,236.07L377.50,285.40Z M377.74,285.40L378.29,248.27L378.84,285.40Z M380.84,285.40L381.39,234.36L381.94,285.40Z M382.18,285.40L382.73,255.01L383.28,285.40Z M385.29,285.40L385.84,242.05L386.39,285.40Z M386.62,285.40L387.17,260.25L387.72,285.40Z M389.73,285.40L390.28,240.20L390.83,285.40Z M391.06,285.40L391.61,247.83L392.16,285.40Z M394.17,285.40L394.72,242.31L395.27,285.40Z M395.50,285.40L396.05,249.87L396.60,285.40Z M398.61,285.40L399.16,253.55L399.71,285.40Z M399.94,285.40L400.49,246.18L401.04,285.40Z M403.05,285.40L403.60,233.41L404.15,285.40Z M404.39,285.40L404.94,244.61L405.49,285.40Z M407.49,285.40L408.04,245.05L408.59,285.40Z M408.83,285.40L409.38,248.39L409.93,285.40Z M411.94,285.40L412.49,250.74L413.04,285.40Z M413.27,285.40L413.82,245.97L414.37,285.40Z M416.38,285.40L416.93,236.69L417.48,285.40Z M417.71,285.40L418.26,257.34L418.81,285.40Z M420.82,285.40L421.37,256.98L421.92,285.40Z M422.15,285.40L422.70,255.47L423.25,285.40Z M425.26,285.40L425.81,244.70L426.36,285.40Z M426.59,285.40L427.14,248.84L427.69,285.40Z M429.70,285.40L430.25,246.35L430.80,285.40Z M431.04,285.40L431.59,263.82L432.14,285.40Z M434.14,285.40L434.69,237.91L435.24,285.40Z M435.48,285.40L436.03,263.10L436.58,285.40Z M438.59,285.40L439.14,238.15L439.69,285.40Z M439.92,285.40L440.47,260.90L441.02,285.40Z" fill="#ef4f5c"/>
<polygon points="259.65,367.90 259.65,360.40 261.65,334.15 263.25,325.90 264.98,339.40 265.38,339.40 265.60,277.90 265.97,279.31 266.34,280.37 266.72,281.18 267.09,281.78 267.46,282.24 267.83,282.59 268.20,282.86 268.58,283.06 269.02,339.40 269.82,339.40 270.04,274.08 270.41,275.55 270.79,276.67 271.16,277.51 271.53,278.15 271.90,278.63 272.27,278.99 272.65,279.27 273.02,279.48 273.46,339.40 274.26,339.40 274.48,278.45 274.86,279.85 275.23,280.91 275.60,281.71 275.97,282.31 276.34,282.77 276.72,283.11 277.09,283.38 277.46,283.57 277.90,339.40 278.70,339.40 278.93,278.40 279.30,279.79 279.67,280.85 280.04,281.65 280.41,282.26 280.79,282.72 281.16,283.06 281.53,283.32 281.90,283.52 282.35,339.40 283.15,339.40 283.37,275.91 283.74,277.35 284.11,278.44 284.48,279.27 284.86,279.89 285.23,280.36 285.60,280.72 285.97,280.99 286.34,281.19 286.79,339.40 287.59,339.40 287.81,274.52 288.18,275.98 288.55,277.09 288.92,277.93 289.30,278.56 289.67,279.04 290.04,279.40 290.41,279.68 290.78,279.88 291.23,339.40 292.03,339.40 292.25,273.73 292.62,275.21 292.99,276.33 293.37,277.17 293.74,277.81 294.11,278.29 294.48,278.66 294.85,278.94 295.23,279.15 295.67,339.40 296.47,339.40 296.69,274.75 297.06,276.21 297.44,277.31 297.81,278.15 298.18,278.78 298.55,279.26 298.92,279.62 299.30,279.89 299.67,280.10 300.11,339.40 300.91,339.40 301.13,273.02 301.51,274.51 301.88,275.63 302.25,276.49 302.62,277.13 302.99,277.62 303.37,277.99 303.74,278.27 304.11,278.48 304.55,339.40 305.35,339.40 305.58,276.08 305.95,277.51 306.32,278.60 306.69,279.42 307.06,280.05 307.44,280.52 307.81,280.87 308.18,281.14 308.55,281.35 309.00,339.40 309.80,339.40 310.02,272.99 310.39,274.48 310.76,275.61 311.13,276.46 311.51,277.11 311.88,277.60 312.25,277.97 312.62,278.24 312.99,278.46 313.44,339.40 314.24,339.40 314.46,278.82 314.83,280.21 315.20,281.26 315.57,282.06 315.95,282.66 316.32,283.12 316.69,283.46 317.06,283.72 317.43,283.92 317.88,339.40 318.68,339.40 318.90,277.91 319.27,279.31 319.64,280.38 320.02,281.18 320.39,281.79 320.76,282.25 321.13,282.60 321.50,282.86 321.88,283.06 322.32,339.40 323.12,339.40 323.34,275.85 323.71,277.29 324.09,278.38 324.46,279.20 324.83,279.83 325.20,280.30 325.57,280.66 325.95,280.93 326.32,281.13 326.76,339.40 327.56,339.40 327.78,277.44 328.16,278.86 328.53,279.93 328.90,280.74 329.27,281.35 329.64,281.81 330.02,282.16 330.39,282.43 330.76,282.63 331.20,339.40 332.00,339.40 332.23,274.48 332.60,275.95 332.97,277.05 333.34,277.89 333.71,278.53 334.09,279.01 334.46,279.37 334.83,279.64 335.20,279.85 335.65,339.40 336.45,339.40 336.67,275.09 337.04,276.54 337.41,277.64 337.78,278.47 338.16,279.10 338.53,279.58 338.90,279.94 339.27,280.21 339.64,280.42 340.09,339.40 340.89,339.40 341.11,275.87 341.48,277.31 341.85,278.40 342.22,279.23 342.60,279.85 342.97,280.32 343.34,280.68 343.71,280.95 344.08,281.15 344.53,339.40 345.33,339.40 345.55,273.71 345.92,275.18 346.29,276.30 346.67,277.15 347.04,277.79 347.41,278.27 347.78,278.64 348.15,278.91 348.53,279.12 348.97,339.40 349.77,339.40 349.99,275.62 350.36,277.07 350.74,278.16 351.11,278.99 351.48,279.61 351.85,280.09 352.22,280.44 352.60,280.71 352.97,280.92 353.41,339.40 354.21,339.40 354.43,277.30 354.81,278.71 355.18,279.78 355.55,280.60 355.92,281.21 356.29,281.67 356.67,282.02 357.04,282.29 357.41,282.49 357.85,339.40 358.65,339.40 358.88,276.83 359.25,278.25 359.62,279.33 359.99,280.15 360.36,280.76 360.74,281.23 361.11,281.58 361.48,281.85 361.85,282.05 362.30,339.40 363.10,339.40 363.32,273.69 363.69,275.17 364.06,276.29 364.43,277.14 364.81,277.78 365.18,278.26 365.55,278.63 365.92,278.90 366.29,279.11 366.74,339.40 367.54,339.40 367.76,273.32 368.13,274.81 368.50,275.93 368.87,276.78 369.25,277.42 369.62,277.91 369.99,278.28 370.36,278.55 370.73,278.76 371.18,339.40 371.98,339.40 372.20,277.99 372.57,279.40 372.94,280.46 373.32,281.27 373.69,281.87 374.06,282.33 374.43,282.68 374.80,282.95 375.18,283.14 375.62,339.40 376.42,339.40 376.64,273.66 377.01,275.14 377.39,276.26 377.76,277.10 378.13,277.74 378.50,278.23 378.87,278.59 379.25,278.87 379.62,279.08 380.06,339.40 380.86,339.40 381.08,272.86 381.46,274.36 381.83,275.48 382.20,276.34 382.57,276.98 382.94,277.47 383.32,277.84 383.69,278.12 384.06,278.33 384.50,339.40 385.30,339.40 385.53,275.86 385.90,277.30 386.27,278.39 386.64,279.22 387.01,279.84 387.39,280.31 387.76,280.67 388.13,280.94 388.50,281.14 388.95,339.40 389.75,339.40 389.97,275.53 390.34,276.98 390.71,278.07 391.08,278.90 391.46,279.53 391.83,280.00 392.20,280.36 392.57,280.63 392.94,280.84 393.39,339.40 394.19,339.40 394.41,278.04 394.78,279.45 395.15,280.51 395.52,281.31 395.90,281.92 396.27,282.38 396.64,282.73 397.01,282.99 397.38,283.19 397.83,339.40 398.63,339.40 398.85,275.78 399.22,277.23 399.59,278.32 399.97,279.14 400.34,279.77 400.71,280.24 401.08,280.60 401.45,280.87 401.83,281.07 402.27,339.40 403.07,339.40 403.29,276.00 403.66,277.44 404.04,278.53 404.41,279.35 404.78,279.98 405.15,280.45 405.52,280.80 405.90,281.07 406.27,281.28 406.71,339.40 407.51,339.40 407.73,275.31 408.11,276.77 408.48,277.86 408.85,278.69 409.22,279.32 409.59,279.80 409.97,280.16 410.34,280.43 410.71,280.63 411.15,339.40 411.95,339.40 412.18,279.21 412.55,280.60 412.92,281.64 413.29,282.44 413.66,283.04 414.04,283.49 414.41,283.83 414.78,284.09 415.15,284.29 415.60,339.40 416.40,339.40 416.62,272.86 416.99,274.35 417.36,275.48 417.73,276.33 418.11,276.98 418.48,277.47 418.85,277.84 419.22,278.12 419.59,278.33 420.04,339.40 420.84,339.40 421.06,275.92 421.43,277.36 421.80,278.45 422.17,279.27 422.55,279.89 422.92,280.37 423.29,280.72 423.66,280.99 424.03,281.20 424.48,339.40 425.28,339.40 425.50,276.70 425.87,278.12 426.24,279.20 426.62,280.02 426.99,280.64 427.36,281.10 427.73,281.46 428.10,281.73 428.48,281.93 428.92,339.40 429.72,339.40 429.94,273.99 430.31,275.47 430.69,276.58 431.06,277.42 431.43,278.06 431.80,278.54 432.17,278.91 432.55,279.18 432.92,279.39 433.36,339.40 434.16,339.40 434.38,275.60 434.76,277.05 435.13,278.14 435.50,278.97 435.87,279.59 436.24,280.07 436.62,280.42 436.99,280.70 437.36,280.90 437.80,339.40 438.60,339.40 438.83,276.09 439.20,277.52 439.57,278.61 439.94,279.43 440.31,280.06 440.69,280.53 441.06,280.88 441.43,281.15 441.80,281.35 442.25,339.40 442.87,328.15 446.86,325.90 450.86,336.40 453.53,337.90 453.53,367.90" fill="url(#gd)" stroke="none" stroke-width="1.0" />
<path d="M268.27,345.40V276.40 M272.71,345.40V276.40 M277.15,345.40V276.40 M281.59,345.40V276.40 M286.03,345.40V276.40 M290.47,345.40V276.40 M294.92,345.40V276.40 M299.36,345.40V276.40 M303.80,345.40V276.40 M308.24,345.40V276.40 M312.68,345.40V276.40 M317.12,345.40V276.40 M321.57,345.40V276.40 M326.01,345.40V276.40 M330.45,345.40V276.40 M334.89,345.40V276.40 M339.33,345.40V276.40 M343.77,345.40V276.40 M348.22,345.40V276.40 M352.66,345.40V276.40 M357.10,345.40V276.40 M361.54,345.40V276.40 M365.98,345.40V276.40 M370.42,345.40V276.40 M374.87,345.40V276.40 M379.31,345.40V276.40 M383.75,345.40V276.40 M388.19,345.40V276.40 M392.63,345.40V276.40 M397.07,345.40V276.40 M401.52,345.40V276.40 M405.96,345.40V276.40 M410.40,345.40V276.40 M414.84,345.40V276.40 M419.28,345.40V276.40 M423.72,345.40V276.40 M428.17,345.40V276.40 M432.61,345.40V276.40 M437.05,345.40V276.40 M441.49,345.40V276.40" stroke="#f4a0a8" stroke-width="0.6" stroke-opacity="0.35" fill="none"/>
<path d="M267.16,330.40V285.40 M271.60,330.40V285.40 M276.04,330.40V285.40 M280.48,330.40V285.40 M284.92,330.40V285.40 M289.36,330.40V285.40 M293.81,330.40V285.40 M298.25,330.40V285.40 M302.69,330.40V285.40 M307.13,330.40V285.40 M311.57,330.40V285.40 M316.01,330.40V285.40 M320.46,330.40V285.40 M324.90,330.40V285.40 M329.34,330.40V285.40 M333.78,330.40V285.40 M338.22,330.40V285.40 M342.66,330.40V285.40 M347.11,330.40V285.40 M351.55,330.40V285.40 M355.99,330.40V285.40 M360.43,330.40V285.40 M364.87,330.40V285.40 M369.31,330.40V285.40 M373.76,330.40V285.40 M378.20,330.40V285.40 M382.64,330.40V285.40 M387.08,330.40V285.40 M391.52,330.40V285.40 M395.96,330.40V285.40 M400.41,330.40V285.40 M404.85,330.40V285.40 M409.29,330.40V285.40 M413.73,330.40V285.40 M418.17,330.40V285.40 M422.61,330.40V285.40 M427.06,330.40V285.40 M431.50,330.40V285.40 M435.94,330.40V285.40 M440.38,330.40V285.40" stroke="#eaf6fb" stroke-width="0.6" stroke-opacity="0.7" fill="none"/>
<path d="M268.34,339.02L269.24,319.15L270.14,339.02Z M272.78,339.02L273.68,319.15L274.58,339.02Z M277.23,339.02L278.13,319.15L279.03,339.02Z M281.67,339.02L282.57,319.15L283.47,339.02Z M286.11,339.02L287.01,319.15L287.91,339.02Z M290.55,339.02L291.45,319.15L292.35,339.02Z M294.99,339.02L295.89,319.15L296.79,339.02Z M299.43,339.02L300.33,319.15L301.23,339.02Z M303.88,339.02L304.78,319.15L305.68,339.02Z M308.32,339.02L309.22,319.15L310.12,339.02Z M312.76,339.02L313.66,319.15L314.56,339.02Z M317.20,339.02L318.10,319.15L319.00,339.02Z M321.64,339.02L322.54,319.15L323.44,339.02Z M326.08,339.02L326.98,319.15L327.88,339.02Z M330.53,339.02L331.43,319.15L332.33,339.02Z M334.97,339.02L335.87,319.15L336.77,339.02Z M339.41,339.02L340.31,319.15L341.21,339.02Z M343.85,339.02L344.75,319.15L345.65,339.02Z M348.29,339.02L349.19,319.15L350.09,339.02Z M352.73,339.02L353.63,319.15L354.53,339.02Z M357.18,339.02L358.08,319.15L358.98,339.02Z M361.62,339.02L362.52,319.15L363.42,339.02Z M366.06,339.02L366.96,319.15L367.86,339.02Z M370.50,339.02L371.40,319.15L372.30,339.02Z M374.94,339.02L375.84,319.15L376.74,339.02Z M379.38,339.02L380.28,319.15L381.18,339.02Z M383.83,339.02L384.73,319.15L385.63,339.02Z M388.27,339.02L389.17,319.15L390.07,339.02Z M392.71,339.02L393.61,319.15L394.51,339.02Z M397.15,339.02L398.05,319.15L398.95,339.02Z M401.59,339.02L402.49,319.15L403.39,339.02Z M406.03,339.02L406.93,319.15L407.83,339.02Z M410.48,339.02L411.38,319.15L412.28,339.02Z M414.92,339.02L415.82,319.15L416.72,339.02Z M419.36,339.02L420.26,319.15L421.16,339.02Z M423.80,339.02L424.70,319.15L425.60,339.02Z M428.24,339.02L429.14,319.15L430.04,339.02Z M432.68,339.02L433.58,319.15L434.48,339.02Z M437.13,339.02L438.03,319.15L438.93,339.02Z M441.57,339.02L442.47,319.15L443.37,339.02Z" fill="#b5e6f7"/>
</g>
<circle cx="257.65" cy="363.40" r="1.75" fill="#d3eadb" stroke="#2c7350" stroke-width="1.05"/>
<circle cx="264.98" cy="356.65" r="1.75" fill="#d3eadb" stroke="#2c7350" stroke-width="1.05"/>
<circle cx="269.11" cy="283.90" r="1.75" fill="#d3eadb" stroke="#2c7350" stroke-width="1.05"/>
<circle cx="274.57" cy="283.90" r="1.75" fill="#d3eadb" stroke="#2c7350" stroke-width="1.05"/>
<circle cx="280.17" cy="283.30" r="1.75" fill="#d3eadb" stroke="#2c7350" stroke-width="1.05"/>
<circle cx="285.77" cy="281.50" r="1.75" fill="#d3eadb" stroke="#2c7350" stroke-width="1.05"/>
<circle cx="291.10" cy="283.00" r="1.75" fill="#d3eadb" stroke="#2c7350" stroke-width="1.05"/>
<circle cx="296.69" cy="279.40" r="1.75" fill="#d3eadb" stroke="#2c7350" stroke-width="1.05"/>
<circle cx="302.16" cy="283.30" r="1.75" fill="#d3eadb" stroke="#2c7350" stroke-width="1.05"/>
<circle cx="307.89" cy="281.20" r="1.75" fill="#d3eadb" stroke="#2c7350" stroke-width="1.05"/>
<circle cx="313.35" cy="278.65" r="1.75" fill="#d3eadb" stroke="#2c7350" stroke-width="1.05"/>
<circle cx="318.68" cy="280.90" r="1.75" fill="#d3eadb" stroke="#2c7350" stroke-width="1.05"/>
<circle cx="324.27" cy="280.30" r="1.75" fill="#d3eadb" stroke="#2c7350" stroke-width="1.05"/>
<circle cx="329.60" cy="283.00" r="1.75" fill="#d3eadb" stroke="#2c7350" stroke-width="1.05"/>
<circle cx="335.60" cy="277.90" r="1.75" fill="#d3eadb" stroke="#2c7350" stroke-width="1.05"/>
<circle cx="341.20" cy="280.00" r="1.75" fill="#d3eadb" stroke="#2c7350" stroke-width="1.05"/>
<circle cx="346.66" cy="282.92" r="1.75" fill="#d3eadb" stroke="#2c7350" stroke-width="1.05"/>
<circle cx="351.99" cy="284.12" r="1.75" fill="#d3eadb" stroke="#2c7350" stroke-width="1.05"/>
<circle cx="357.59" cy="280.00" r="1.75" fill="#d3eadb" stroke="#2c7350" stroke-width="1.05"/>
<circle cx="363.05" cy="282.47" r="1.75" fill="#d3eadb" stroke="#2c7350" stroke-width="1.05"/>
<circle cx="368.38" cy="283.07" r="1.75" fill="#d3eadb" stroke="#2c7350" stroke-width="1.05"/>
<circle cx="373.84" cy="281.42" r="1.75" fill="#d3eadb" stroke="#2c7350" stroke-width="1.05"/>
<circle cx="379.57" cy="285.10" r="1.75" fill="#d3eadb" stroke="#2c7350" stroke-width="1.05"/>
<circle cx="385.17" cy="285.10" r="1.75" fill="#d3eadb" stroke="#2c7350" stroke-width="1.05"/>
<circle cx="390.63" cy="284.12" r="1.75" fill="#d3eadb" stroke="#2c7350" stroke-width="1.05"/>
<circle cx="395.96" cy="284.50" r="1.75" fill="#d3eadb" stroke="#2c7350" stroke-width="1.05"/>
<circle cx="401.56" cy="284.12" r="1.75" fill="#d3eadb" stroke="#2c7350" stroke-width="1.05"/>
<circle cx="407.16" cy="282.92" r="1.75" fill="#d3eadb" stroke="#2c7350" stroke-width="1.05"/>
<circle cx="412.75" cy="281.42" r="1.75" fill="#d3eadb" stroke="#2c7350" stroke-width="1.05"/>
<circle cx="418.35" cy="285.10" r="1.75" fill="#d3eadb" stroke="#2c7350" stroke-width="1.05"/>
<circle cx="423.68" cy="281.80" r="1.75" fill="#d3eadb" stroke="#2c7350" stroke-width="1.05"/>
<circle cx="429.14" cy="282.92" r="1.75" fill="#d3eadb" stroke="#2c7350" stroke-width="1.05"/>
<circle cx="434.87" cy="281.42" r="1.75" fill="#d3eadb" stroke="#2c7350" stroke-width="1.05"/>
<circle cx="440.47" cy="281.80" r="1.75" fill="#d3eadb" stroke="#2c7350" stroke-width="1.05"/>
<circle cx="446.20" cy="355.00" r="1.75" fill="#d3eadb" stroke="#2c7350" stroke-width="1.05"/>
<circle cx="448.86" cy="345.02" r="1.75" fill="#d3eadb" stroke="#2c7350" stroke-width="1.05"/>
<rect x="257.70" y="210.40" width="193.30" height="154.80" fill="none" stroke="#000" stroke-width="1.3"/>
<line x1="257.70" y1="360.40" x2="261.00" y2="360.40" stroke="#000" stroke-width="1.3" />
<text x="254.90" y="363.70" font-size="11" text-anchor="end" >0</text>
<line x1="257.70" y1="330.40" x2="261.00" y2="330.40" stroke="#000" stroke-width="1.3" />
<text x="254.90" y="333.70" font-size="11" text-anchor="end" >4</text>
<line x1="257.70" y1="300.40" x2="261.00" y2="300.40" stroke="#000" stroke-width="1.3" />
<text x="254.90" y="303.70" font-size="11" text-anchor="end" >8</text>
<line x1="257.70" y1="270.40" x2="261.00" y2="270.40" stroke="#000" stroke-width="1.3" />
<text x="254.90" y="273.70" font-size="11" text-anchor="end" >12</text>
<line x1="257.70" y1="240.40" x2="261.00" y2="240.40" stroke="#000" stroke-width="1.3" />
<text x="254.90" y="243.70" font-size="11" text-anchor="end" >16</text>
<text x="254.90" y="213.50" font-size="11" text-anchor="end" >20</text>
<line x1="257.70" y1="345.40" x2="259.50" y2="345.40" stroke="#000" stroke-width="1.3" />
<line x1="257.70" y1="315.40" x2="259.50" y2="315.40" stroke="#000" stroke-width="1.3" />
<line x1="257.70" y1="285.40" x2="259.50" y2="285.40" stroke="#000" stroke-width="1.3" />
<line x1="257.70" y1="255.40" x2="259.50" y2="255.40" stroke="#000" stroke-width="1.3" />
<line x1="257.70" y1="225.40" x2="259.50" y2="225.40" stroke="#000" stroke-width="1.3" />
<line x1="257.65" y1="365.20" x2="257.65" y2="361.90" stroke="#000" stroke-width="1.3" />
<text x="254.65" y="375.70" font-size="11" text-anchor="middle" >0</text>
<line x1="270.97" y1="365.20" x2="270.97" y2="363.40" stroke="#000" stroke-width="1.3" />
<line x1="284.30" y1="365.20" x2="284.30" y2="361.90" stroke="#000" stroke-width="1.3" />
<text x="281.30" y="375.70" font-size="11" text-anchor="middle" >2</text>
<line x1="297.62" y1="365.20" x2="297.62" y2="363.40" stroke="#000" stroke-width="1.3" />
<line x1="310.95" y1="365.20" x2="310.95" y2="361.90" stroke="#000" stroke-width="1.3" />
<text x="307.95" y="375.70" font-size="11" text-anchor="middle" >4</text>
<line x1="324.27" y1="365.20" x2="324.27" y2="363.40" stroke="#000" stroke-width="1.3" />
<line x1="337.60" y1="365.20" x2="337.60" y2="361.90" stroke="#000" stroke-width="1.3" />
<text x="334.60" y="375.70" font-size="11" text-anchor="middle" >6</text>
<line x1="350.92" y1="365.20" x2="350.92" y2="363.40" stroke="#000" stroke-width="1.3" />
<line x1="364.25" y1="365.20" x2="364.25" y2="361.90" stroke="#000" stroke-width="1.3" />
<text x="361.25" y="375.70" font-size="11" text-anchor="middle" >8</text>
<line x1="377.57" y1="365.20" x2="377.57" y2="363.40" stroke="#000" stroke-width="1.3" />
<line x1="390.90" y1="365.20" x2="390.90" y2="361.90" stroke="#000" stroke-width="1.3" />
<text x="387.90" y="375.70" font-size="11" text-anchor="middle" >10</text>
<line x1="404.22" y1="365.20" x2="404.22" y2="363.40" stroke="#000" stroke-width="1.3" />
<line x1="417.55" y1="365.20" x2="417.55" y2="361.90" stroke="#000" stroke-width="1.3" />
<text x="414.55" y="375.70" font-size="11" text-anchor="middle" >12</text>
<line x1="430.88" y1="365.20" x2="430.88" y2="363.40" stroke="#000" stroke-width="1.3" />
<line x1="444.20" y1="365.20" x2="444.20" y2="361.90" stroke="#000" stroke-width="1.3" />
<text x="441.20" y="375.70" font-size="11" text-anchor="middle" >14</text>
<text x="353.40" y="388.40" font-size="11.4" text-anchor="middle" >Time (min)</text>
<text x="262.00" y="207.60" font-size="11" text-anchor="start" >×10<tspan dy="-4.3" font-size="7">-11</tspan><tspan dy="4.3"> (mbar)</tspan></text>
<text x="262.60" y="222.40" font-size="11.8" text-anchor="start" >C<tspan dy="3.2" font-size="7.5">2</tspan><tspan dy="-3.2">H</tspan><tspan dy="3.2" font-size="7.5">5</tspan><tspan dy="-3.2">OH</tspan></text>
<text transform="translate(237.7,287.8) rotate(-90)" font-size="12.8" text-anchor="middle">Deconvoluted <tspan font-style="italic">m</tspan>/<tspan font-style="italic">z</tspan> = 31</text>
<text x="233.20" y="202.80" font-size="19.5" text-anchor="start" >d</text>
<rect x="497.50" y="249.51" width="25.60" height="114.79" fill="#96d4fa" stroke="#222" stroke-width="1"/>
<rect x="523.10" y="303.57" width="25.60" height="60.73" fill="#fb5a70" stroke="#222" stroke-width="1"/>
<rect x="562.00" y="266.22" width="25.60" height="98.08" fill="#96d4fa" stroke="#222" stroke-width="1"/>
<rect x="587.60" y="345.17" width="25.60" height="19.13" fill="#fb5a70" stroke="#222" stroke-width="1"/>
<rect x="626.50" y="228.86" width="25.60" height="135.44" fill="#96d4fa" stroke="#222" stroke-width="1"/>
<rect x="652.10" y="303.57" width="25.60" height="60.73" fill="#fb5a70" stroke="#222" stroke-width="1"/>
<rect x="491.00" y="207.00" width="193.00" height="157.30" fill="none" stroke="#333" stroke-width="1.0"/>
<line x1="491.00" y1="364.40" x2="494.30" y2="364.40" stroke="#333" stroke-width="1.3" />
<text x="488.50" y="367.70" font-size="11" text-anchor="end" >1.0</text>
<line x1="491.00" y1="325.00" x2="494.30" y2="325.00" stroke="#333" stroke-width="1.3" />
<text x="488.50" y="328.30" font-size="11" text-anchor="end" >1.5</text>
<line x1="491.00" y1="285.60" x2="494.30" y2="285.60" stroke="#333" stroke-width="1.3" />
<text x="488.50" y="288.90" font-size="11" text-anchor="end" >2.0</text>
<line x1="491.00" y1="246.20" x2="494.30" y2="246.20" stroke="#333" stroke-width="1.3" />
<text x="488.50" y="249.50" font-size="11" text-anchor="end" >2.5</text>
<line x1="491.00" y1="206.80" x2="494.30" y2="206.80" stroke="#333" stroke-width="1.3" />
<text x="488.50" y="210.10" font-size="11" text-anchor="end" >3.0</text>
<line x1="491.00" y1="344.70" x2="492.80" y2="344.70" stroke="#333" stroke-width="1.3" />
<line x1="491.00" y1="305.30" x2="492.80" y2="305.30" stroke="#333" stroke-width="1.3" />
<line x1="491.00" y1="265.90" x2="492.80" y2="265.90" stroke="#333" stroke-width="1.3" />
<line x1="491.00" y1="226.50" x2="492.80" y2="226.50" stroke="#333" stroke-width="1.3" />
<text x="523.10" y="378.90" font-size="11.4" text-anchor="middle" >static</text>
<text x="587.20" y="379.50" font-size="11.4" text-anchor="middle" ><tspan font-style="italic">E</tspan><tspan dy="3.90" font-size="6.84">a</tspan><tspan dy="-3.90"> = -0.8 V</tspan></text>
<text x="654.80" y="379.50" font-size="11.4" text-anchor="middle" ><tspan font-style="italic">E</tspan><tspan dy="3.90" font-size="6.84">a</tspan><tspan dy="-3.90"> = +0.6 V</tspan></text>
<rect x="496.5" y="209.5" width="21.2" height="10.6" fill="#96d4fa" stroke="#111" stroke-width="1"/>
<rect x="496.5" y="222.6" width="21.2" height="10.6" fill="#fb5a70" stroke="#111" stroke-width="1"/>
<text x="520.30" y="217.40" font-size="9.7" text-anchor="start" >DEMS</text>
<text x="520.30" y="230.60" font-size="9.7" text-anchor="start" >GC</text>
<text transform="translate(466.0,287.9) rotate(-90)" font-size="10.4" text-anchor="middle">C<tspan dy="3" font-size="7.5">2</tspan><tspan dy="-3">H</tspan><tspan dy="3" font-size="7.5">4</tspan><tspan dy="-3"> / CH</tspan><tspan dy="3" font-size="7.5">4</tspan></text>
<text x="451.50" y="203.80" font-size="19.5" text-anchor="start" >f</text>
</svg></body></html>
